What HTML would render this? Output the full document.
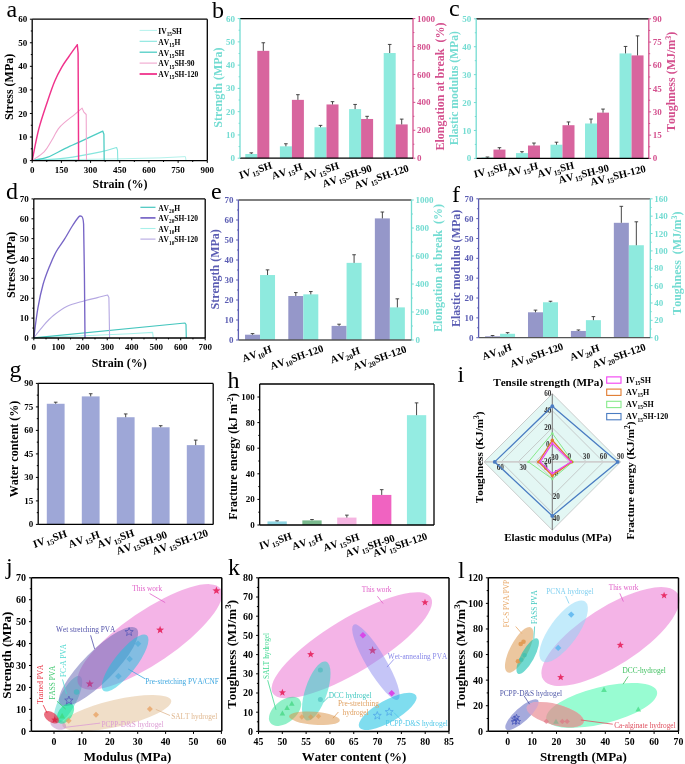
<!DOCTYPE html>
<html><head><meta charset="utf-8"><style>
html,body{margin:0;padding:0;background:#fff;}
svg{display:block;will-change:transform;}
text{font-family:"Liberation Serif",serif;font-kerning:none;}
</style></head><body>
<svg width="685" height="764" viewBox="0 0 685 764">
<rect width="685" height="764" fill="#fff"/>
<path d="M32.2,160.4 L70,159.6 L120,158.8 L160,157.9 L185.4,156.6 L186,160.5" stroke="#b4f2ec" stroke-width="1" fill="none" stroke-linejoin="round"/>
<path d="M32.2,160.5 C37.72,160.1 53.88,159.53 65.3,158.1 C76.72,156.67 92.15,153.67 100.7,151.9 C109.25,150.13 113.95,148.23 116.6,147.5 L117.5,150.1 L117.8,160.5" stroke="#86e6de" stroke-width="1.1" fill="none" stroke-linejoin="round"/>
<path d="M32.2,160.5 C34.78,159.95 42.18,159.22 47.7,157.2 C53.22,155.18 59.42,151.2 65.3,148.4 C71.18,145.6 76.75,143.28 83,140.4 C89.25,137.52 99.5,132.65 102.8,131.1 L103.9,134.2 L104.2,160.5" stroke="#4ecdc4" stroke-width="1.3" fill="none" stroke-linejoin="round"/>
<path d="M32.2,160.5 C34.18,159.07 40.93,155.1 44.1,151.9 C47.27,148.7 48.83,145.13 51.2,141.3 C53.57,137.47 55.95,132.13 58.3,128.9 C60.65,125.67 62.65,124.25 65.3,121.9 C67.95,119.55 71.4,117.1 74.2,114.8 C77,112.5 80.78,109.22 82.1,108.1 L83.9,112.2 L86.2,114.5 L86.5,160.5" stroke="#f0a6ce" stroke-width="1.1" fill="none" stroke-linejoin="round"/>
<path d="M32.2,160.5 C33.3,155.23 36.22,138.87 38.8,128.9 C41.38,118.93 45.05,108.65 47.7,100.7 C50.35,92.75 52.35,86.8 54.7,81.2 C57.05,75.6 59.43,71.22 61.8,67.1 C64.17,62.98 66.32,60.23 68.9,56.5 C71.48,52.77 75.9,46.67 77.3,44.7 L78.1,53 L78.6,160.5" stroke="#f0338c" stroke-width="1.45" fill="none" stroke-linejoin="round"/>
<line x1="32.2" y1="19.2" x2="207.3" y2="19.2" stroke="#000" stroke-width="1.3"/>
<line x1="207.3" y1="19.2" x2="207.3" y2="160.6" stroke="#000" stroke-width="1.3"/>
<line x1="32.2" y1="160.6" x2="207.3" y2="160.6" stroke="#000" stroke-width="1.3"/>
<line x1="32.2" y1="19.2" x2="32.2" y2="160.6" stroke="#000" stroke-width="1.3"/>
<line x1="29.9" y1="160.6" x2="32.2" y2="160.6" stroke="#000" stroke-width="1"/>
<text x="27.2" y="163.66" font-size="9" font-weight="bold" fill="#000" text-anchor="end">0</text>
<line x1="29.9" y1="137.03" x2="32.2" y2="137.03" stroke="#000" stroke-width="1"/>
<text x="27.2" y="140.09" font-size="9" font-weight="bold" fill="#000" text-anchor="end">10</text>
<line x1="29.9" y1="113.47" x2="32.2" y2="113.47" stroke="#000" stroke-width="1"/>
<text x="27.2" y="116.53" font-size="9" font-weight="bold" fill="#000" text-anchor="end">20</text>
<line x1="29.9" y1="89.9" x2="32.2" y2="89.9" stroke="#000" stroke-width="1"/>
<text x="27.2" y="92.96" font-size="9" font-weight="bold" fill="#000" text-anchor="end">30</text>
<line x1="29.9" y1="66.33" x2="32.2" y2="66.33" stroke="#000" stroke-width="1"/>
<text x="27.2" y="69.39" font-size="9" font-weight="bold" fill="#000" text-anchor="end">40</text>
<line x1="29.9" y1="42.77" x2="32.2" y2="42.77" stroke="#000" stroke-width="1"/>
<text x="27.2" y="45.83" font-size="9" font-weight="bold" fill="#000" text-anchor="end">50</text>
<line x1="29.9" y1="19.2" x2="32.2" y2="19.2" stroke="#000" stroke-width="1"/>
<text x="27.2" y="22.26" font-size="9" font-weight="bold" fill="#000" text-anchor="end">60</text>
<line x1="30.8" y1="148.82" x2="32.2" y2="148.82" stroke="#000" stroke-width="1"/>
<line x1="30.8" y1="125.25" x2="32.2" y2="125.25" stroke="#000" stroke-width="1"/>
<line x1="30.8" y1="101.68" x2="32.2" y2="101.68" stroke="#000" stroke-width="1"/>
<line x1="30.8" y1="78.12" x2="32.2" y2="78.12" stroke="#000" stroke-width="1"/>
<line x1="30.8" y1="54.55" x2="32.2" y2="54.55" stroke="#000" stroke-width="1"/>
<line x1="30.8" y1="30.98" x2="32.2" y2="30.98" stroke="#000" stroke-width="1"/>
<line x1="32.2" y1="160.6" x2="32.2" y2="162.9" stroke="#000" stroke-width="1"/>
<text x="32.2" y="172.8" font-size="9" font-weight="bold" fill="#000" text-anchor="middle">0</text>
<line x1="61.38" y1="160.6" x2="61.38" y2="162.9" stroke="#000" stroke-width="1"/>
<text x="61.38" y="172.8" font-size="9" font-weight="bold" fill="#000" text-anchor="middle">150</text>
<line x1="90.57" y1="160.6" x2="90.57" y2="162.9" stroke="#000" stroke-width="1"/>
<text x="90.57" y="172.8" font-size="9" font-weight="bold" fill="#000" text-anchor="middle">300</text>
<line x1="119.75" y1="160.6" x2="119.75" y2="162.9" stroke="#000" stroke-width="1"/>
<text x="119.75" y="172.8" font-size="9" font-weight="bold" fill="#000" text-anchor="middle">450</text>
<line x1="148.93" y1="160.6" x2="148.93" y2="162.9" stroke="#000" stroke-width="1"/>
<text x="148.93" y="172.8" font-size="9" font-weight="bold" fill="#000" text-anchor="middle">600</text>
<line x1="178.12" y1="160.6" x2="178.12" y2="162.9" stroke="#000" stroke-width="1"/>
<text x="178.12" y="172.8" font-size="9" font-weight="bold" fill="#000" text-anchor="middle">750</text>
<line x1="207.3" y1="160.6" x2="207.3" y2="162.9" stroke="#000" stroke-width="1"/>
<text x="207.3" y="172.8" font-size="9" font-weight="bold" fill="#000" text-anchor="middle">900</text>
<line x1="46.79" y1="160.6" x2="46.79" y2="162" stroke="#000" stroke-width="1"/>
<line x1="75.98" y1="160.6" x2="75.98" y2="162" stroke="#000" stroke-width="1"/>
<line x1="105.16" y1="160.6" x2="105.16" y2="162" stroke="#000" stroke-width="1"/>
<line x1="134.34" y1="160.6" x2="134.34" y2="162" stroke="#000" stroke-width="1"/>
<line x1="163.53" y1="160.6" x2="163.53" y2="162" stroke="#000" stroke-width="1"/>
<line x1="192.71" y1="160.6" x2="192.71" y2="162" stroke="#000" stroke-width="1"/>
<text x="12.9" y="86.9" font-size="12" font-weight="bold" fill="#000" text-anchor="middle" transform="rotate(-90 12.9 86.9)">Stress (MPa)</text>
<text x="120" y="188" font-size="12" font-weight="bold" fill="#000" text-anchor="middle">Strain (%)</text>
<line x1="139.6" y1="30.4" x2="157" y2="30.4" stroke="#b4f2ec" stroke-width="1"/>
<text x="158.3" y="33.7" font-size="7.5" font-weight="bold" fill="#000" text-anchor="start">IV<tspan font-size="5.25" dy="2.1">15</tspan><tspan dy="-2.1">SH</tspan></text>
<line x1="139.6" y1="41.3" x2="157" y2="41.3" stroke="#86e6de" stroke-width="1.1"/>
<text x="158.3" y="44.6" font-size="7.5" font-weight="bold" fill="#000" text-anchor="start">AV<tspan font-size="5.25" dy="2.1">15</tspan><tspan dy="-2.1">H</tspan></text>
<line x1="139.6" y1="52.2" x2="157" y2="52.2" stroke="#4ecdc4" stroke-width="1.3"/>
<text x="158.3" y="55.5" font-size="7.5" font-weight="bold" fill="#000" text-anchor="start">AV<tspan font-size="5.25" dy="2.1">15</tspan><tspan dy="-2.1">SH</tspan></text>
<line x1="139.6" y1="63.1" x2="157" y2="63.1" stroke="#f0a6ce" stroke-width="1.1"/>
<text x="158.3" y="66.4" font-size="7.5" font-weight="bold" fill="#000" text-anchor="start">AV<tspan font-size="5.25" dy="2.1">15</tspan><tspan dy="-2.1">SH-90</tspan></text>
<line x1="139.6" y1="74" x2="157" y2="74" stroke="#f0338c" stroke-width="1.8"/>
<text x="158.3" y="77.3" font-size="7.5" font-weight="bold" fill="#000" text-anchor="start">AV<tspan font-size="5.25" dy="2.1">15</tspan><tspan dy="-2.1">SH-120</tspan></text>
<rect x="245.3" y="154.01" width="12" height="4.19" fill="#8eeade"/>
<rect x="257.3" y="50.85" width="12" height="107.35" fill="#d8659e"/>
<line x1="251.3" y1="154.01" x2="251.3" y2="152.85" stroke="#333" stroke-width="0.9"/>
<line x1="249.5" y1="152.85" x2="253.1" y2="152.85" stroke="#333" stroke-width="0.9"/>
<line x1="263.3" y1="50.85" x2="263.3" y2="42.75" stroke="#333" stroke-width="0.9"/>
<line x1="261.5" y1="42.75" x2="265.1" y2="42.75" stroke="#333" stroke-width="0.9"/>
<rect x="279.9" y="146.33" width="12" height="11.87" fill="#8eeade"/>
<rect x="291.9" y="99.85" width="12" height="58.35" fill="#d8659e"/>
<line x1="285.9" y1="146.33" x2="285.9" y2="143.77" stroke="#333" stroke-width="0.9"/>
<line x1="284.1" y1="143.77" x2="287.7" y2="143.77" stroke="#333" stroke-width="0.9"/>
<line x1="297.9" y1="99.85" x2="297.9" y2="94.68" stroke="#333" stroke-width="0.9"/>
<line x1="296.1" y1="94.68" x2="299.7" y2="94.68" stroke="#333" stroke-width="0.9"/>
<rect x="314.5" y="127.26" width="12" height="30.94" fill="#8eeade"/>
<rect x="326.5" y="104.45" width="12" height="53.75" fill="#d8659e"/>
<line x1="320.5" y1="127.26" x2="320.5" y2="125.39" stroke="#333" stroke-width="0.9"/>
<line x1="318.7" y1="125.39" x2="322.3" y2="125.39" stroke="#333" stroke-width="0.9"/>
<line x1="332.5" y1="104.45" x2="332.5" y2="101.66" stroke="#333" stroke-width="0.9"/>
<line x1="330.7" y1="101.66" x2="334.3" y2="101.66" stroke="#333" stroke-width="0.9"/>
<rect x="349.1" y="109.11" width="12" height="49.09" fill="#8eeade"/>
<rect x="361.1" y="118.97" width="12" height="39.23" fill="#d8659e"/>
<line x1="355.1" y1="109.11" x2="355.1" y2="104.45" stroke="#333" stroke-width="0.9"/>
<line x1="353.3" y1="104.45" x2="356.9" y2="104.45" stroke="#333" stroke-width="0.9"/>
<line x1="367.1" y1="118.97" x2="367.1" y2="116.32" stroke="#333" stroke-width="0.9"/>
<line x1="365.3" y1="116.32" x2="368.9" y2="116.32" stroke="#333" stroke-width="0.9"/>
<rect x="383.7" y="53.03" width="12" height="105.17" fill="#8eeade"/>
<rect x="395.7" y="124.42" width="12" height="33.78" fill="#d8659e"/>
<line x1="389.7" y1="53.03" x2="389.7" y2="44.43" stroke="#333" stroke-width="0.9"/>
<line x1="387.9" y1="44.43" x2="391.5" y2="44.43" stroke="#333" stroke-width="0.9"/>
<line x1="401.7" y1="124.42" x2="401.7" y2="119.11" stroke="#333" stroke-width="0.9"/>
<line x1="399.9" y1="119.11" x2="403.5" y2="119.11" stroke="#333" stroke-width="0.9"/>
<line x1="240" y1="18.6" x2="413" y2="18.6" stroke="#000" stroke-width="1.3"/>
<line x1="413" y1="18.6" x2="413" y2="158.2" stroke="#d4508e" stroke-width="1.3"/>
<line x1="240" y1="158.2" x2="413" y2="158.2" stroke="#000" stroke-width="1.3"/>
<line x1="240" y1="18.6" x2="240" y2="158.2" stroke="#74dcd2" stroke-width="1.3"/>
<line x1="237.7" y1="158.2" x2="240" y2="158.2" stroke="#74dcd2" stroke-width="1"/>
<text x="235" y="161.26" font-size="9" font-weight="bold" fill="#74dcd2" text-anchor="end">0</text>
<line x1="237.7" y1="134.93" x2="240" y2="134.93" stroke="#74dcd2" stroke-width="1"/>
<text x="235" y="137.99" font-size="9" font-weight="bold" fill="#74dcd2" text-anchor="end">10</text>
<line x1="237.7" y1="111.67" x2="240" y2="111.67" stroke="#74dcd2" stroke-width="1"/>
<text x="235" y="114.73" font-size="9" font-weight="bold" fill="#74dcd2" text-anchor="end">20</text>
<line x1="237.7" y1="88.4" x2="240" y2="88.4" stroke="#74dcd2" stroke-width="1"/>
<text x="235" y="91.46" font-size="9" font-weight="bold" fill="#74dcd2" text-anchor="end">30</text>
<line x1="237.7" y1="65.13" x2="240" y2="65.13" stroke="#74dcd2" stroke-width="1"/>
<text x="235" y="68.19" font-size="9" font-weight="bold" fill="#74dcd2" text-anchor="end">40</text>
<line x1="237.7" y1="41.87" x2="240" y2="41.87" stroke="#74dcd2" stroke-width="1"/>
<text x="235" y="44.93" font-size="9" font-weight="bold" fill="#74dcd2" text-anchor="end">50</text>
<line x1="237.7" y1="18.6" x2="240" y2="18.6" stroke="#74dcd2" stroke-width="1"/>
<text x="235" y="21.66" font-size="9" font-weight="bold" fill="#74dcd2" text-anchor="end">60</text>
<line x1="238.6" y1="146.57" x2="240" y2="146.57" stroke="#74dcd2" stroke-width="1"/>
<line x1="238.6" y1="123.3" x2="240" y2="123.3" stroke="#74dcd2" stroke-width="1"/>
<line x1="238.6" y1="100.03" x2="240" y2="100.03" stroke="#74dcd2" stroke-width="1"/>
<line x1="238.6" y1="76.77" x2="240" y2="76.77" stroke="#74dcd2" stroke-width="1"/>
<line x1="238.6" y1="53.5" x2="240" y2="53.5" stroke="#74dcd2" stroke-width="1"/>
<line x1="238.6" y1="30.23" x2="240" y2="30.23" stroke="#74dcd2" stroke-width="1"/>
<line x1="413" y1="158.2" x2="415.3" y2="158.2" stroke="#d4508e" stroke-width="1"/>
<text x="417" y="161.26" font-size="9" font-weight="bold" fill="#d4508e" text-anchor="start">0</text>
<line x1="413" y1="130.28" x2="415.3" y2="130.28" stroke="#d4508e" stroke-width="1"/>
<text x="417" y="133.34" font-size="9" font-weight="bold" fill="#d4508e" text-anchor="start">200</text>
<line x1="413" y1="102.36" x2="415.3" y2="102.36" stroke="#d4508e" stroke-width="1"/>
<text x="417" y="105.42" font-size="9" font-weight="bold" fill="#d4508e" text-anchor="start">400</text>
<line x1="413" y1="74.44" x2="415.3" y2="74.44" stroke="#d4508e" stroke-width="1"/>
<text x="417" y="77.5" font-size="9" font-weight="bold" fill="#d4508e" text-anchor="start">600</text>
<line x1="413" y1="46.52" x2="415.3" y2="46.52" stroke="#d4508e" stroke-width="1"/>
<text x="417" y="49.58" font-size="9" font-weight="bold" fill="#d4508e" text-anchor="start">800</text>
<line x1="413" y1="18.6" x2="415.3" y2="18.6" stroke="#d4508e" stroke-width="1"/>
<text x="417" y="21.66" font-size="9" font-weight="bold" fill="#d4508e" text-anchor="start">1000</text>
<line x1="413" y1="144.24" x2="414.4" y2="144.24" stroke="#d4508e" stroke-width="1"/>
<line x1="413" y1="116.32" x2="414.4" y2="116.32" stroke="#d4508e" stroke-width="1"/>
<line x1="413" y1="88.4" x2="414.4" y2="88.4" stroke="#d4508e" stroke-width="1"/>
<line x1="413" y1="60.48" x2="414.4" y2="60.48" stroke="#d4508e" stroke-width="1"/>
<line x1="413" y1="32.56" x2="414.4" y2="32.56" stroke="#d4508e" stroke-width="1"/>
<text x="221.7" y="87.6" font-size="12" font-weight="bold" fill="#74dcd2" text-anchor="middle" transform="rotate(-90 221.7 87.6)">Strength (MPa)</text>
<text x="443.5" y="86.5" font-size="12" font-weight="bold" fill="#d4508e" text-anchor="middle" transform="rotate(-90 443.5 86.5)" xml:space="preserve">Elongation at break  (%)</text>
<text x="272.7" y="168.1" font-size="10.5" font-weight="bold" fill="#000" text-anchor="end" transform="rotate(-18.6 272.7 168.1)">IV<tspan font-size="3.67"> </tspan><tspan font-size="7.35" dy="2.31">15</tspan><tspan dy="-2.31">SH</tspan></text>
<text x="303" y="169.5" font-size="10.5" font-weight="bold" fill="#000" text-anchor="end" transform="rotate(-18.6 303 169.5)">AV<tspan font-size="3.67"> </tspan><tspan font-size="7.35" dy="2.31">15</tspan><tspan dy="-2.31">H</tspan></text>
<text x="339.7" y="168.4" font-size="10.5" font-weight="bold" fill="#000" text-anchor="end" transform="rotate(-18.6 339.7 168.4)">AV<tspan font-size="3.67"> </tspan><tspan font-size="7.35" dy="2.31">15</tspan><tspan dy="-2.31">SH</tspan></text>
<text x="372.5" y="171" font-size="10.5" font-weight="bold" fill="#000" text-anchor="end" transform="rotate(-18.6 372.5 171)">AV<tspan font-size="3.67"> </tspan><tspan font-size="7.35" dy="2.31">15</tspan><tspan dy="-2.31">SH-90</tspan></text>
<text x="409.4" y="171" font-size="10.5" font-weight="bold" fill="#000" text-anchor="end" transform="rotate(-18.6 409.4 171)">AV<tspan font-size="3.67"> </tspan><tspan font-size="7.35" dy="2.31">15</tspan><tspan dy="-2.31">SH-120</tspan></text>
<rect x="481.46" y="157.56" width="12" height="0.84" fill="#8eeade"/>
<rect x="493.46" y="149.56" width="12" height="8.84" fill="#d8659e"/>
<line x1="487.46" y1="157.56" x2="487.46" y2="157" stroke="#333" stroke-width="0.9"/>
<line x1="485.66" y1="157" x2="489.26" y2="157" stroke="#333" stroke-width="0.9"/>
<line x1="499.46" y1="149.56" x2="499.46" y2="147.7" stroke="#333" stroke-width="0.9"/>
<line x1="497.66" y1="147.7" x2="501.26" y2="147.7" stroke="#333" stroke-width="0.9"/>
<rect x="515.98" y="153.1" width="12" height="5.3" fill="#8eeade"/>
<rect x="527.98" y="145.53" width="12" height="12.87" fill="#d8659e"/>
<line x1="521.98" y1="153.1" x2="521.98" y2="151.7" stroke="#333" stroke-width="0.9"/>
<line x1="520.18" y1="151.7" x2="523.78" y2="151.7" stroke="#333" stroke-width="0.9"/>
<line x1="533.98" y1="145.53" x2="533.98" y2="143.04" stroke="#333" stroke-width="0.9"/>
<line x1="532.18" y1="143.04" x2="535.78" y2="143.04" stroke="#333" stroke-width="0.9"/>
<rect x="550.5" y="144.72" width="12" height="13.68" fill="#8eeade"/>
<rect x="562.5" y="125.21" width="12" height="33.19" fill="#d8659e"/>
<line x1="556.5" y1="144.72" x2="556.5" y2="142.21" stroke="#333" stroke-width="0.9"/>
<line x1="554.7" y1="142.21" x2="558.3" y2="142.21" stroke="#333" stroke-width="0.9"/>
<line x1="568.5" y1="125.21" x2="568.5" y2="121.95" stroke="#333" stroke-width="0.9"/>
<line x1="566.7" y1="121.95" x2="570.3" y2="121.95" stroke="#333" stroke-width="0.9"/>
<rect x="585.02" y="123.5" width="12" height="34.9" fill="#8eeade"/>
<rect x="597.02" y="112.64" width="12" height="45.76" fill="#d8659e"/>
<line x1="591.02" y1="123.5" x2="591.02" y2="119.03" stroke="#333" stroke-width="0.9"/>
<line x1="589.22" y1="119.03" x2="592.82" y2="119.03" stroke="#333" stroke-width="0.9"/>
<line x1="603.02" y1="112.64" x2="603.02" y2="109.07" stroke="#333" stroke-width="0.9"/>
<line x1="601.22" y1="109.07" x2="604.82" y2="109.07" stroke="#333" stroke-width="0.9"/>
<rect x="619.54" y="53.42" width="12" height="104.98" fill="#8eeade"/>
<rect x="631.54" y="55.41" width="12" height="102.99" fill="#d8659e"/>
<line x1="625.54" y1="53.42" x2="625.54" y2="46.44" stroke="#333" stroke-width="0.9"/>
<line x1="623.74" y1="46.44" x2="627.34" y2="46.44" stroke="#333" stroke-width="0.9"/>
<line x1="637.54" y1="55.41" x2="637.54" y2="35.86" stroke="#333" stroke-width="0.9"/>
<line x1="635.74" y1="35.86" x2="639.34" y2="35.86" stroke="#333" stroke-width="0.9"/>
<line x1="476.2" y1="18.8" x2="648.8" y2="18.8" stroke="#000" stroke-width="1.3"/>
<line x1="648.8" y1="18.8" x2="648.8" y2="158.4" stroke="#d4508e" stroke-width="1.3"/>
<line x1="476.2" y1="158.4" x2="648.8" y2="158.4" stroke="#000" stroke-width="1.3"/>
<line x1="476.2" y1="18.8" x2="476.2" y2="158.4" stroke="#74dcd2" stroke-width="1.3"/>
<line x1="473.9" y1="158.4" x2="476.2" y2="158.4" stroke="#74dcd2" stroke-width="1"/>
<text x="471.2" y="161.46" font-size="9" font-weight="bold" fill="#74dcd2" text-anchor="end">0</text>
<line x1="473.9" y1="130.48" x2="476.2" y2="130.48" stroke="#74dcd2" stroke-width="1"/>
<text x="471.2" y="133.54" font-size="9" font-weight="bold" fill="#74dcd2" text-anchor="end">10</text>
<line x1="473.9" y1="102.56" x2="476.2" y2="102.56" stroke="#74dcd2" stroke-width="1"/>
<text x="471.2" y="105.62" font-size="9" font-weight="bold" fill="#74dcd2" text-anchor="end">20</text>
<line x1="473.9" y1="74.64" x2="476.2" y2="74.64" stroke="#74dcd2" stroke-width="1"/>
<text x="471.2" y="77.7" font-size="9" font-weight="bold" fill="#74dcd2" text-anchor="end">30</text>
<line x1="473.9" y1="46.72" x2="476.2" y2="46.72" stroke="#74dcd2" stroke-width="1"/>
<text x="471.2" y="49.78" font-size="9" font-weight="bold" fill="#74dcd2" text-anchor="end">40</text>
<line x1="473.9" y1="18.8" x2="476.2" y2="18.8" stroke="#74dcd2" stroke-width="1"/>
<text x="471.2" y="21.86" font-size="9" font-weight="bold" fill="#74dcd2" text-anchor="end">50</text>
<line x1="474.8" y1="144.44" x2="476.2" y2="144.44" stroke="#74dcd2" stroke-width="1"/>
<line x1="474.8" y1="116.52" x2="476.2" y2="116.52" stroke="#74dcd2" stroke-width="1"/>
<line x1="474.8" y1="88.6" x2="476.2" y2="88.6" stroke="#74dcd2" stroke-width="1"/>
<line x1="474.8" y1="60.68" x2="476.2" y2="60.68" stroke="#74dcd2" stroke-width="1"/>
<line x1="474.8" y1="32.76" x2="476.2" y2="32.76" stroke="#74dcd2" stroke-width="1"/>
<line x1="648.8" y1="158.4" x2="651.1" y2="158.4" stroke="#d4508e" stroke-width="1"/>
<text x="652.8" y="161.46" font-size="9" font-weight="bold" fill="#d4508e" text-anchor="start">0</text>
<line x1="648.8" y1="135.13" x2="651.1" y2="135.13" stroke="#d4508e" stroke-width="1"/>
<text x="652.8" y="138.19" font-size="9" font-weight="bold" fill="#d4508e" text-anchor="start">15</text>
<line x1="648.8" y1="111.87" x2="651.1" y2="111.87" stroke="#d4508e" stroke-width="1"/>
<text x="652.8" y="114.93" font-size="9" font-weight="bold" fill="#d4508e" text-anchor="start">30</text>
<line x1="648.8" y1="88.6" x2="651.1" y2="88.6" stroke="#d4508e" stroke-width="1"/>
<text x="652.8" y="91.66" font-size="9" font-weight="bold" fill="#d4508e" text-anchor="start">45</text>
<line x1="648.8" y1="65.33" x2="651.1" y2="65.33" stroke="#d4508e" stroke-width="1"/>
<text x="652.8" y="68.39" font-size="9" font-weight="bold" fill="#d4508e" text-anchor="start">60</text>
<line x1="648.8" y1="42.07" x2="651.1" y2="42.07" stroke="#d4508e" stroke-width="1"/>
<text x="652.8" y="45.13" font-size="9" font-weight="bold" fill="#d4508e" text-anchor="start">75</text>
<line x1="648.8" y1="18.8" x2="651.1" y2="18.8" stroke="#d4508e" stroke-width="1"/>
<text x="652.8" y="21.86" font-size="9" font-weight="bold" fill="#d4508e" text-anchor="start">90</text>
<line x1="648.8" y1="146.77" x2="650.2" y2="146.77" stroke="#d4508e" stroke-width="1"/>
<line x1="648.8" y1="123.5" x2="650.2" y2="123.5" stroke="#d4508e" stroke-width="1"/>
<line x1="648.8" y1="100.23" x2="650.2" y2="100.23" stroke="#d4508e" stroke-width="1"/>
<line x1="648.8" y1="76.97" x2="650.2" y2="76.97" stroke="#d4508e" stroke-width="1"/>
<line x1="648.8" y1="53.7" x2="650.2" y2="53.7" stroke="#d4508e" stroke-width="1"/>
<line x1="648.8" y1="30.43" x2="650.2" y2="30.43" stroke="#d4508e" stroke-width="1"/>
<text x="458.3" y="88.2" font-size="11.7" font-weight="bold" fill="#74dcd2" text-anchor="middle" transform="rotate(-90 458.3 88.2)">Elastic modulus (MPa)</text>
<text x="675.2" y="81.8" font-size="12" font-weight="bold" fill="#d4508e" text-anchor="middle" transform="rotate(-90 675.2 81.8)">Toughness (MJ/m<tspan font-size="8" dy="-4">3</tspan><tspan dy="4">)</tspan></text>
<text x="507.8" y="169.5" font-size="10.5" font-weight="bold" fill="#000" text-anchor="end" transform="rotate(-14 507.8 169.5)">IV<tspan font-size="3.67"> </tspan><tspan font-size="7.35" dy="2.31">15</tspan><tspan dy="-2.31">SH</tspan></text>
<text x="538.6" y="168.8" font-size="10.5" font-weight="bold" fill="#000" text-anchor="end" transform="rotate(-14 538.6 168.8)">AV<tspan font-size="3.67"> </tspan><tspan font-size="7.35" dy="2.31">15</tspan><tspan dy="-2.31">H</tspan></text>
<text x="574.7" y="168.4" font-size="10.5" font-weight="bold" fill="#000" text-anchor="end" transform="rotate(-14 574.7 168.4)">AV<tspan font-size="3.67"> </tspan><tspan font-size="7.35" dy="2.31">15</tspan><tspan dy="-2.31">SH</tspan></text>
<text x="609.5" y="171" font-size="10.5" font-weight="bold" fill="#000" text-anchor="end" transform="rotate(-14 609.5 171)">AV<tspan font-size="3.67"> </tspan><tspan font-size="7.35" dy="2.31">15</tspan><tspan dy="-2.31">SH-90</tspan></text>
<text x="646.4" y="171.8" font-size="10.5" font-weight="bold" fill="#000" text-anchor="end" transform="rotate(-14 646.4 171.8)">AV<tspan font-size="3.67"> </tspan><tspan font-size="7.35" dy="2.31">15</tspan><tspan dy="-2.31">SH-120</tspan></text>
<path d="M33.8,337.8 L90,335.5 L130,333.8 L152.6,332.4 L153.3,337.9" stroke="#a8f0ea" stroke-width="1.1" fill="none" stroke-linejoin="round"/>
<path d="M33.8,337.8 L185,323 L186,324.5 L186.3,337.9" stroke="#45c6be" stroke-width="1.2" fill="none" stroke-linejoin="round"/>
<path d="M33.8,337.8 C35.45,335.72 40.38,329.05 43.7,325.3 C47.02,321.55 49.78,318.48 53.7,315.3 C57.62,312.12 62.17,308.58 67.2,306.2 C72.23,303.82 78.87,302.43 83.9,301 C88.93,299.57 93.45,298.6 97.4,297.6 C101.35,296.6 105.9,295.43 107.6,295 L108.9,297.5 L109.6,337.9" stroke="#b5a8e2" stroke-width="1.1" fill="none" stroke-linejoin="round"/>
<path d="M33.8,337.8 C34.48,332.83 36.35,316.92 37.9,308 C39.45,299.08 41.13,291.32 43.1,284.3 C45.07,277.28 47.5,271.37 49.7,265.9 C51.9,260.43 53.88,255.87 56.3,251.5 C58.72,247.13 61.58,243.87 64.2,239.7 C66.82,235.53 69.6,230.28 72,226.5 C74.4,222.72 77.07,218.72 78.6,217 C80.13,215.28 80.77,216.33 81.2,216.2 C82.5,216.5 83.3,219 83.6,224 L84.4,273.8 L85.0,337.9" stroke="#7765c6" stroke-width="1.35" fill="none" stroke-linejoin="round"/>
<line x1="33.8" y1="198.9" x2="205.2" y2="198.9" stroke="#000" stroke-width="1.3"/>
<line x1="205.2" y1="198.9" x2="205.2" y2="338" stroke="#000" stroke-width="1.3"/>
<line x1="33.8" y1="338" x2="205.2" y2="338" stroke="#000" stroke-width="1.3"/>
<line x1="33.8" y1="198.9" x2="33.8" y2="338" stroke="#000" stroke-width="1.3"/>
<line x1="31.5" y1="338" x2="33.8" y2="338" stroke="#000" stroke-width="1"/>
<text x="28.8" y="341.06" font-size="9" font-weight="bold" fill="#000" text-anchor="end">0</text>
<line x1="31.5" y1="318.13" x2="33.8" y2="318.13" stroke="#000" stroke-width="1"/>
<text x="28.8" y="321.19" font-size="9" font-weight="bold" fill="#000" text-anchor="end">10</text>
<line x1="31.5" y1="298.26" x2="33.8" y2="298.26" stroke="#000" stroke-width="1"/>
<text x="28.8" y="301.32" font-size="9" font-weight="bold" fill="#000" text-anchor="end">20</text>
<line x1="31.5" y1="278.39" x2="33.8" y2="278.39" stroke="#000" stroke-width="1"/>
<text x="28.8" y="281.45" font-size="9" font-weight="bold" fill="#000" text-anchor="end">30</text>
<line x1="31.5" y1="258.51" x2="33.8" y2="258.51" stroke="#000" stroke-width="1"/>
<text x="28.8" y="261.57" font-size="9" font-weight="bold" fill="#000" text-anchor="end">40</text>
<line x1="31.5" y1="238.64" x2="33.8" y2="238.64" stroke="#000" stroke-width="1"/>
<text x="28.8" y="241.7" font-size="9" font-weight="bold" fill="#000" text-anchor="end">50</text>
<line x1="31.5" y1="218.77" x2="33.8" y2="218.77" stroke="#000" stroke-width="1"/>
<text x="28.8" y="221.83" font-size="9" font-weight="bold" fill="#000" text-anchor="end">60</text>
<line x1="31.5" y1="198.9" x2="33.8" y2="198.9" stroke="#000" stroke-width="1"/>
<text x="28.8" y="201.96" font-size="9" font-weight="bold" fill="#000" text-anchor="end">70</text>
<line x1="32.4" y1="328.06" x2="33.8" y2="328.06" stroke="#000" stroke-width="1"/>
<line x1="32.4" y1="308.19" x2="33.8" y2="308.19" stroke="#000" stroke-width="1"/>
<line x1="32.4" y1="288.32" x2="33.8" y2="288.32" stroke="#000" stroke-width="1"/>
<line x1="32.4" y1="268.45" x2="33.8" y2="268.45" stroke="#000" stroke-width="1"/>
<line x1="32.4" y1="248.58" x2="33.8" y2="248.58" stroke="#000" stroke-width="1"/>
<line x1="32.4" y1="228.71" x2="33.8" y2="228.71" stroke="#000" stroke-width="1"/>
<line x1="32.4" y1="208.84" x2="33.8" y2="208.84" stroke="#000" stroke-width="1"/>
<line x1="33.8" y1="338" x2="33.8" y2="340.3" stroke="#000" stroke-width="1"/>
<text x="33.8" y="350.2" font-size="9" font-weight="bold" fill="#000" text-anchor="middle">0</text>
<line x1="58.29" y1="338" x2="58.29" y2="340.3" stroke="#000" stroke-width="1"/>
<text x="58.29" y="350.2" font-size="9" font-weight="bold" fill="#000" text-anchor="middle">100</text>
<line x1="82.77" y1="338" x2="82.77" y2="340.3" stroke="#000" stroke-width="1"/>
<text x="82.77" y="350.2" font-size="9" font-weight="bold" fill="#000" text-anchor="middle">200</text>
<line x1="107.26" y1="338" x2="107.26" y2="340.3" stroke="#000" stroke-width="1"/>
<text x="107.26" y="350.2" font-size="9" font-weight="bold" fill="#000" text-anchor="middle">300</text>
<line x1="131.74" y1="338" x2="131.74" y2="340.3" stroke="#000" stroke-width="1"/>
<text x="131.74" y="350.2" font-size="9" font-weight="bold" fill="#000" text-anchor="middle">400</text>
<line x1="156.23" y1="338" x2="156.23" y2="340.3" stroke="#000" stroke-width="1"/>
<text x="156.23" y="350.2" font-size="9" font-weight="bold" fill="#000" text-anchor="middle">500</text>
<line x1="180.71" y1="338" x2="180.71" y2="340.3" stroke="#000" stroke-width="1"/>
<text x="180.71" y="350.2" font-size="9" font-weight="bold" fill="#000" text-anchor="middle">600</text>
<line x1="205.2" y1="338" x2="205.2" y2="340.3" stroke="#000" stroke-width="1"/>
<text x="205.2" y="350.2" font-size="9" font-weight="bold" fill="#000" text-anchor="middle">700</text>
<line x1="46.04" y1="338" x2="46.04" y2="339.4" stroke="#000" stroke-width="1"/>
<line x1="70.53" y1="338" x2="70.53" y2="339.4" stroke="#000" stroke-width="1"/>
<line x1="95.01" y1="338" x2="95.01" y2="339.4" stroke="#000" stroke-width="1"/>
<line x1="119.5" y1="338" x2="119.5" y2="339.4" stroke="#000" stroke-width="1"/>
<line x1="143.99" y1="338" x2="143.99" y2="339.4" stroke="#000" stroke-width="1"/>
<line x1="168.47" y1="338" x2="168.47" y2="339.4" stroke="#000" stroke-width="1"/>
<line x1="192.96" y1="338" x2="192.96" y2="339.4" stroke="#000" stroke-width="1"/>
<text x="14.7" y="264.8" font-size="12" font-weight="bold" fill="#000" text-anchor="middle" transform="rotate(-90 14.7 264.8)">Stress (MPa)</text>
<text x="119.2" y="367" font-size="12" font-weight="bold" fill="#000" text-anchor="middle">Strain (%)</text>
<line x1="140.4" y1="207.3" x2="155.5" y2="207.3" stroke="#45c6be" stroke-width="1.2"/>
<text x="158.2" y="210.6" font-size="7.5" font-weight="bold" fill="#000" text-anchor="start">AV<tspan font-size="5.25" dy="2.1">20</tspan><tspan dy="-2.1">H</tspan></text>
<line x1="140.4" y1="217.9" x2="155.5" y2="217.9" stroke="#7765c6" stroke-width="1.7"/>
<text x="158.2" y="221.2" font-size="7.5" font-weight="bold" fill="#000" text-anchor="start">AV<tspan font-size="5.25" dy="2.1">20</tspan><tspan dy="-2.1">SH-120</tspan></text>
<line x1="140.4" y1="228.5" x2="155.5" y2="228.5" stroke="#a8f0ea" stroke-width="1.1"/>
<text x="158.2" y="231.8" font-size="7.5" font-weight="bold" fill="#000" text-anchor="start">AV<tspan font-size="5.25" dy="2.1">10</tspan><tspan dy="-2.1">H</tspan></text>
<line x1="140.4" y1="239.1" x2="155.5" y2="239.1" stroke="#b5a8e2" stroke-width="1.1"/>
<text x="158.2" y="242.4" font-size="7.5" font-weight="bold" fill="#000" text-anchor="start">AV<tspan font-size="5.25" dy="2.1">10</tspan><tspan dy="-2.1">SH-120</tspan></text>
<rect x="245.04" y="334.7" width="15" height="5.3" fill="#9597c9"/>
<rect x="260.04" y="275.04" width="15" height="64.96" fill="#8eeade"/>
<line x1="252.54" y1="334.7" x2="252.54" y2="333.6" stroke="#333" stroke-width="0.9"/>
<line x1="250.74" y1="333.6" x2="254.34" y2="333.6" stroke="#333" stroke-width="0.9"/>
<line x1="267.54" y1="275.04" x2="267.54" y2="269.86" stroke="#333" stroke-width="0.9"/>
<line x1="265.74" y1="269.86" x2="269.34" y2="269.86" stroke="#333" stroke-width="0.9"/>
<rect x="288.31" y="296" width="15" height="44" fill="#9597c9"/>
<rect x="303.31" y="294.36" width="15" height="45.64" fill="#8eeade"/>
<line x1="295.81" y1="296" x2="295.81" y2="292.6" stroke="#333" stroke-width="0.9"/>
<line x1="294.01" y1="292.6" x2="297.61" y2="292.6" stroke="#333" stroke-width="0.9"/>
<line x1="310.81" y1="294.36" x2="310.81" y2="291.56" stroke="#333" stroke-width="0.9"/>
<line x1="309.01" y1="291.56" x2="312.61" y2="291.56" stroke="#333" stroke-width="0.9"/>
<rect x="331.59" y="325.9" width="15" height="14.1" fill="#9597c9"/>
<rect x="346.59" y="262.86" width="15" height="77.14" fill="#8eeade"/>
<line x1="339.09" y1="325.9" x2="339.09" y2="324.2" stroke="#333" stroke-width="0.9"/>
<line x1="337.29" y1="324.2" x2="340.89" y2="324.2" stroke="#333" stroke-width="0.9"/>
<line x1="354.09" y1="262.86" x2="354.09" y2="254.74" stroke="#333" stroke-width="0.9"/>
<line x1="352.29" y1="254.74" x2="355.89" y2="254.74" stroke="#333" stroke-width="0.9"/>
<rect x="374.86" y="218.4" width="15" height="121.6" fill="#9597c9"/>
<rect x="389.86" y="307.38" width="15" height="32.62" fill="#8eeade"/>
<line x1="382.36" y1="218.4" x2="382.36" y2="212" stroke="#333" stroke-width="0.9"/>
<line x1="380.56" y1="212" x2="384.16" y2="212" stroke="#333" stroke-width="0.9"/>
<line x1="397.36" y1="307.38" x2="397.36" y2="298.84" stroke="#333" stroke-width="0.9"/>
<line x1="395.56" y1="298.84" x2="399.16" y2="298.84" stroke="#333" stroke-width="0.9"/>
<line x1="238.4" y1="200" x2="411.5" y2="200" stroke="#555" stroke-width="1.3"/>
<line x1="411.5" y1="200" x2="411.5" y2="340" stroke="#74dcd2" stroke-width="1.3"/>
<line x1="238.4" y1="340" x2="411.5" y2="340" stroke="#555" stroke-width="1.3"/>
<line x1="238.4" y1="200" x2="238.4" y2="340" stroke="#5b5db3" stroke-width="1.3"/>
<line x1="236.1" y1="340" x2="238.4" y2="340" stroke="#5b5db3" stroke-width="1"/>
<text x="233.4" y="343.06" font-size="9" font-weight="bold" fill="#5b5db3" text-anchor="end">0</text>
<line x1="236.1" y1="320" x2="238.4" y2="320" stroke="#5b5db3" stroke-width="1"/>
<text x="233.4" y="323.06" font-size="9" font-weight="bold" fill="#5b5db3" text-anchor="end">10</text>
<line x1="236.1" y1="300" x2="238.4" y2="300" stroke="#5b5db3" stroke-width="1"/>
<text x="233.4" y="303.06" font-size="9" font-weight="bold" fill="#5b5db3" text-anchor="end">20</text>
<line x1="236.1" y1="280" x2="238.4" y2="280" stroke="#5b5db3" stroke-width="1"/>
<text x="233.4" y="283.06" font-size="9" font-weight="bold" fill="#5b5db3" text-anchor="end">30</text>
<line x1="236.1" y1="260" x2="238.4" y2="260" stroke="#5b5db3" stroke-width="1"/>
<text x="233.4" y="263.06" font-size="9" font-weight="bold" fill="#5b5db3" text-anchor="end">40</text>
<line x1="236.1" y1="240" x2="238.4" y2="240" stroke="#5b5db3" stroke-width="1"/>
<text x="233.4" y="243.06" font-size="9" font-weight="bold" fill="#5b5db3" text-anchor="end">50</text>
<line x1="236.1" y1="220" x2="238.4" y2="220" stroke="#5b5db3" stroke-width="1"/>
<text x="233.4" y="223.06" font-size="9" font-weight="bold" fill="#5b5db3" text-anchor="end">60</text>
<line x1="236.1" y1="200" x2="238.4" y2="200" stroke="#5b5db3" stroke-width="1"/>
<text x="233.4" y="203.06" font-size="9" font-weight="bold" fill="#5b5db3" text-anchor="end">70</text>
<line x1="237" y1="330" x2="238.4" y2="330" stroke="#5b5db3" stroke-width="1"/>
<line x1="237" y1="310" x2="238.4" y2="310" stroke="#5b5db3" stroke-width="1"/>
<line x1="237" y1="290" x2="238.4" y2="290" stroke="#5b5db3" stroke-width="1"/>
<line x1="237" y1="270" x2="238.4" y2="270" stroke="#5b5db3" stroke-width="1"/>
<line x1="237" y1="250" x2="238.4" y2="250" stroke="#5b5db3" stroke-width="1"/>
<line x1="237" y1="230" x2="238.4" y2="230" stroke="#5b5db3" stroke-width="1"/>
<line x1="237" y1="210" x2="238.4" y2="210" stroke="#5b5db3" stroke-width="1"/>
<line x1="411.5" y1="340" x2="413.8" y2="340" stroke="#74dcd2" stroke-width="1"/>
<text x="415.5" y="343.06" font-size="9" font-weight="bold" fill="#74dcd2" text-anchor="start">0</text>
<line x1="411.5" y1="312" x2="413.8" y2="312" stroke="#74dcd2" stroke-width="1"/>
<text x="415.5" y="315.06" font-size="9" font-weight="bold" fill="#74dcd2" text-anchor="start">200</text>
<line x1="411.5" y1="284" x2="413.8" y2="284" stroke="#74dcd2" stroke-width="1"/>
<text x="415.5" y="287.06" font-size="9" font-weight="bold" fill="#74dcd2" text-anchor="start">400</text>
<line x1="411.5" y1="256" x2="413.8" y2="256" stroke="#74dcd2" stroke-width="1"/>
<text x="415.5" y="259.06" font-size="9" font-weight="bold" fill="#74dcd2" text-anchor="start">600</text>
<line x1="411.5" y1="228" x2="413.8" y2="228" stroke="#74dcd2" stroke-width="1"/>
<text x="415.5" y="231.06" font-size="9" font-weight="bold" fill="#74dcd2" text-anchor="start">800</text>
<line x1="411.5" y1="200" x2="413.8" y2="200" stroke="#74dcd2" stroke-width="1"/>
<text x="415.5" y="203.06" font-size="9" font-weight="bold" fill="#74dcd2" text-anchor="start">1000</text>
<line x1="411.5" y1="326" x2="412.9" y2="326" stroke="#74dcd2" stroke-width="1"/>
<line x1="411.5" y1="298" x2="412.9" y2="298" stroke="#74dcd2" stroke-width="1"/>
<line x1="411.5" y1="270" x2="412.9" y2="270" stroke="#74dcd2" stroke-width="1"/>
<line x1="411.5" y1="242" x2="412.9" y2="242" stroke="#74dcd2" stroke-width="1"/>
<line x1="411.5" y1="214" x2="412.9" y2="214" stroke="#74dcd2" stroke-width="1"/>
<text x="219.3" y="269.3" font-size="12" font-weight="bold" fill="#5b5db3" text-anchor="middle" transform="rotate(-90 219.3 269.3)">Strength (MPa)</text>
<text x="441.8" y="268" font-size="12" font-weight="bold" fill="#74dcd2" text-anchor="middle" transform="rotate(-90 441.8 268)" xml:space="preserve">Elongation at break  (%)</text>
<text x="272.5" y="351.9" font-size="10.5" font-weight="bold" fill="#000" text-anchor="end" transform="rotate(-19.5 272.5 351.9)">AV<tspan font-size="7.35" dy="2.31">10</tspan><tspan dy="-2.31">H</tspan></text>
<text x="324.1" y="351.2" font-size="10.5" font-weight="bold" fill="#000" text-anchor="end" transform="rotate(-19.5 324.1 351.2)">AV<tspan font-size="7.35" dy="2.31">10</tspan><tspan dy="-2.31">SH-120</tspan></text>
<text x="360.7" y="353.3" font-size="10.5" font-weight="bold" fill="#000" text-anchor="end" transform="rotate(-19.5 360.7 353.3)">AV<tspan font-size="7.35" dy="2.31">20</tspan><tspan dy="-2.31">H</tspan></text>
<text x="407.1" y="351.9" font-size="10.5" font-weight="bold" fill="#000" text-anchor="end" transform="rotate(-19.5 407.1 351.9)">AV<tspan font-size="7.35" dy="2.31">20</tspan><tspan dy="-2.31">SH-120</tspan></text>
<rect x="485.06" y="336.31" width="15" height="1.39" fill="#9597c9"/>
<rect x="500.06" y="333.79" width="15" height="3.91" fill="#8eeade"/>
<line x1="492.56" y1="336.31" x2="492.56" y2="335.52" stroke="#333" stroke-width="0.9"/>
<line x1="490.76" y1="335.52" x2="494.36" y2="335.52" stroke="#333" stroke-width="0.9"/>
<line x1="507.56" y1="333.79" x2="507.56" y2="332.66" stroke="#333" stroke-width="0.9"/>
<line x1="505.76" y1="332.66" x2="509.36" y2="332.66" stroke="#333" stroke-width="0.9"/>
<rect x="527.99" y="312.3" width="15" height="25.4" fill="#9597c9"/>
<rect x="542.99" y="302.28" width="15" height="35.42" fill="#8eeade"/>
<line x1="535.49" y1="312.3" x2="535.49" y2="310.12" stroke="#333" stroke-width="0.9"/>
<line x1="533.69" y1="310.12" x2="537.29" y2="310.12" stroke="#333" stroke-width="0.9"/>
<line x1="550.49" y1="302.28" x2="550.49" y2="301.24" stroke="#333" stroke-width="0.9"/>
<line x1="548.69" y1="301.24" x2="552.29" y2="301.24" stroke="#333" stroke-width="0.9"/>
<rect x="570.91" y="330.95" width="15" height="6.75" fill="#9597c9"/>
<rect x="585.91" y="320.16" width="15" height="17.54" fill="#8eeade"/>
<line x1="578.41" y1="330.95" x2="578.41" y2="329.96" stroke="#333" stroke-width="0.9"/>
<line x1="576.61" y1="329.96" x2="580.21" y2="329.96" stroke="#333" stroke-width="0.9"/>
<line x1="593.41" y1="320.16" x2="593.41" y2="316.6" stroke="#333" stroke-width="0.9"/>
<line x1="591.61" y1="316.6" x2="595.21" y2="316.6" stroke="#333" stroke-width="0.9"/>
<rect x="613.84" y="222.81" width="15" height="114.89" fill="#9597c9"/>
<rect x="628.84" y="245.24" width="15" height="92.46" fill="#8eeade"/>
<line x1="621.34" y1="222.81" x2="621.34" y2="206.34" stroke="#333" stroke-width="0.9"/>
<line x1="619.54" y1="206.34" x2="623.14" y2="206.34" stroke="#333" stroke-width="0.9"/>
<line x1="636.34" y1="245.24" x2="636.34" y2="221.81" stroke="#333" stroke-width="0.9"/>
<line x1="634.54" y1="221.81" x2="638.14" y2="221.81" stroke="#333" stroke-width="0.9"/>
<line x1="478.6" y1="198.8" x2="650.3" y2="198.8" stroke="#555" stroke-width="1.3"/>
<line x1="650.3" y1="198.8" x2="650.3" y2="337.7" stroke="#74dcd2" stroke-width="1.3"/>
<line x1="478.6" y1="337.7" x2="650.3" y2="337.7" stroke="#555" stroke-width="1.3"/>
<line x1="478.6" y1="198.8" x2="478.6" y2="337.7" stroke="#5b5db3" stroke-width="1.3"/>
<line x1="476.3" y1="337.7" x2="478.6" y2="337.7" stroke="#5b5db3" stroke-width="1"/>
<text x="473.6" y="340.76" font-size="9" font-weight="bold" fill="#5b5db3" text-anchor="end">0</text>
<line x1="476.3" y1="317.86" x2="478.6" y2="317.86" stroke="#5b5db3" stroke-width="1"/>
<text x="473.6" y="320.92" font-size="9" font-weight="bold" fill="#5b5db3" text-anchor="end">10</text>
<line x1="476.3" y1="298.01" x2="478.6" y2="298.01" stroke="#5b5db3" stroke-width="1"/>
<text x="473.6" y="301.07" font-size="9" font-weight="bold" fill="#5b5db3" text-anchor="end">20</text>
<line x1="476.3" y1="278.17" x2="478.6" y2="278.17" stroke="#5b5db3" stroke-width="1"/>
<text x="473.6" y="281.23" font-size="9" font-weight="bold" fill="#5b5db3" text-anchor="end">30</text>
<line x1="476.3" y1="258.33" x2="478.6" y2="258.33" stroke="#5b5db3" stroke-width="1"/>
<text x="473.6" y="261.39" font-size="9" font-weight="bold" fill="#5b5db3" text-anchor="end">40</text>
<line x1="476.3" y1="238.49" x2="478.6" y2="238.49" stroke="#5b5db3" stroke-width="1"/>
<text x="473.6" y="241.55" font-size="9" font-weight="bold" fill="#5b5db3" text-anchor="end">50</text>
<line x1="476.3" y1="218.64" x2="478.6" y2="218.64" stroke="#5b5db3" stroke-width="1"/>
<text x="473.6" y="221.7" font-size="9" font-weight="bold" fill="#5b5db3" text-anchor="end">60</text>
<line x1="476.3" y1="198.8" x2="478.6" y2="198.8" stroke="#5b5db3" stroke-width="1"/>
<text x="473.6" y="201.86" font-size="9" font-weight="bold" fill="#5b5db3" text-anchor="end">70</text>
<line x1="477.2" y1="327.78" x2="478.6" y2="327.78" stroke="#5b5db3" stroke-width="1"/>
<line x1="477.2" y1="307.94" x2="478.6" y2="307.94" stroke="#5b5db3" stroke-width="1"/>
<line x1="477.2" y1="288.09" x2="478.6" y2="288.09" stroke="#5b5db3" stroke-width="1"/>
<line x1="477.2" y1="268.25" x2="478.6" y2="268.25" stroke="#5b5db3" stroke-width="1"/>
<line x1="477.2" y1="248.41" x2="478.6" y2="248.41" stroke="#5b5db3" stroke-width="1"/>
<line x1="477.2" y1="228.56" x2="478.6" y2="228.56" stroke="#5b5db3" stroke-width="1"/>
<line x1="477.2" y1="208.72" x2="478.6" y2="208.72" stroke="#5b5db3" stroke-width="1"/>
<line x1="650.3" y1="337.7" x2="652.6" y2="337.7" stroke="#74dcd2" stroke-width="1"/>
<text x="654.3" y="340.76" font-size="9" font-weight="bold" fill="#74dcd2" text-anchor="start">0</text>
<line x1="650.3" y1="320.34" x2="652.6" y2="320.34" stroke="#74dcd2" stroke-width="1"/>
<text x="654.3" y="323.4" font-size="9" font-weight="bold" fill="#74dcd2" text-anchor="start">20</text>
<line x1="650.3" y1="302.98" x2="652.6" y2="302.98" stroke="#74dcd2" stroke-width="1"/>
<text x="654.3" y="306.04" font-size="9" font-weight="bold" fill="#74dcd2" text-anchor="start">40</text>
<line x1="650.3" y1="285.61" x2="652.6" y2="285.61" stroke="#74dcd2" stroke-width="1"/>
<text x="654.3" y="288.67" font-size="9" font-weight="bold" fill="#74dcd2" text-anchor="start">60</text>
<line x1="650.3" y1="268.25" x2="652.6" y2="268.25" stroke="#74dcd2" stroke-width="1"/>
<text x="654.3" y="271.31" font-size="9" font-weight="bold" fill="#74dcd2" text-anchor="start">80</text>
<line x1="650.3" y1="250.89" x2="652.6" y2="250.89" stroke="#74dcd2" stroke-width="1"/>
<text x="654.3" y="253.95" font-size="9" font-weight="bold" fill="#74dcd2" text-anchor="start">100</text>
<line x1="650.3" y1="233.53" x2="652.6" y2="233.53" stroke="#74dcd2" stroke-width="1"/>
<text x="654.3" y="236.59" font-size="9" font-weight="bold" fill="#74dcd2" text-anchor="start">120</text>
<line x1="650.3" y1="216.16" x2="652.6" y2="216.16" stroke="#74dcd2" stroke-width="1"/>
<text x="654.3" y="219.22" font-size="9" font-weight="bold" fill="#74dcd2" text-anchor="start">140</text>
<line x1="650.3" y1="198.8" x2="652.6" y2="198.8" stroke="#74dcd2" stroke-width="1"/>
<text x="654.3" y="201.86" font-size="9" font-weight="bold" fill="#74dcd2" text-anchor="start">160</text>
<line x1="650.3" y1="329.02" x2="651.7" y2="329.02" stroke="#74dcd2" stroke-width="1"/>
<line x1="650.3" y1="311.66" x2="651.7" y2="311.66" stroke="#74dcd2" stroke-width="1"/>
<line x1="650.3" y1="294.29" x2="651.7" y2="294.29" stroke="#74dcd2" stroke-width="1"/>
<line x1="650.3" y1="276.93" x2="651.7" y2="276.93" stroke="#74dcd2" stroke-width="1"/>
<line x1="650.3" y1="259.57" x2="651.7" y2="259.57" stroke="#74dcd2" stroke-width="1"/>
<line x1="650.3" y1="242.21" x2="651.7" y2="242.21" stroke="#74dcd2" stroke-width="1"/>
<line x1="650.3" y1="224.84" x2="651.7" y2="224.84" stroke="#74dcd2" stroke-width="1"/>
<line x1="650.3" y1="207.48" x2="651.7" y2="207.48" stroke="#74dcd2" stroke-width="1"/>
<text x="460.1" y="268.4" font-size="12" font-weight="bold" fill="#5b5db3" text-anchor="middle" transform="rotate(-90 460.1 268.4)">Elastic modulus (MPa)</text>
<text x="680.6" y="263.2" font-size="12" font-weight="bold" fill="#74dcd2" text-anchor="middle" transform="rotate(-90 680.6 263.2)" xml:space="preserve">Toughness  (MJ/m<tspan font-size="8" dy="-4">3</tspan><tspan dy="4">)</tspan></text>
<text x="512.5" y="349.9" font-size="10.5" font-weight="bold" fill="#000" text-anchor="end" transform="rotate(-19.2 512.5 349.9)">AV<tspan font-size="7.35" dy="2.31">10</tspan><tspan dy="-2.31">H</tspan></text>
<text x="564.1" y="349.2" font-size="10.5" font-weight="bold" fill="#000" text-anchor="end" transform="rotate(-19.2 564.1 349.2)">AV<tspan font-size="7.35" dy="2.31">10</tspan><tspan dy="-2.31">SH-120</tspan></text>
<text x="600.3" y="350.6" font-size="10.5" font-weight="bold" fill="#000" text-anchor="end" transform="rotate(-19.2 600.3 350.6)">AV<tspan font-size="7.35" dy="2.31">20</tspan><tspan dy="-2.31">H</tspan></text>
<text x="646.4" y="349.9" font-size="10.5" font-weight="bold" fill="#000" text-anchor="end" transform="rotate(-19.2 646.4 349.9)">AV<tspan font-size="7.35" dy="2.31">20</tspan><tspan dy="-2.31">SH-120</tspan></text>
<rect x="46.8" y="403.77" width="17.8" height="120.63" fill="#9ea7d7"/>
<line x1="55.7" y1="403.77" x2="55.7" y2="402.2" stroke="#333" stroke-width="0.9"/>
<line x1="53.9" y1="402.2" x2="57.5" y2="402.2" stroke="#333" stroke-width="0.9"/>
<rect x="81.8" y="396.4" width="17.8" height="128" fill="#9ea7d7"/>
<line x1="90.7" y1="396.4" x2="90.7" y2="393.74" stroke="#333" stroke-width="0.9"/>
<line x1="88.9" y1="393.74" x2="92.5" y2="393.74" stroke="#333" stroke-width="0.9"/>
<rect x="116.8" y="417.24" width="17.8" height="107.16" fill="#9ea7d7"/>
<line x1="125.7" y1="417.24" x2="125.7" y2="413.95" stroke="#333" stroke-width="0.9"/>
<line x1="123.9" y1="413.95" x2="127.5" y2="413.95" stroke="#333" stroke-width="0.9"/>
<rect x="151.8" y="427.27" width="17.8" height="97.13" fill="#9ea7d7"/>
<line x1="160.7" y1="427.27" x2="160.7" y2="425.7" stroke="#333" stroke-width="0.9"/>
<line x1="158.9" y1="425.7" x2="162.5" y2="425.7" stroke="#333" stroke-width="0.9"/>
<rect x="186.8" y="445.13" width="17.8" height="79.27" fill="#9ea7d7"/>
<line x1="195.7" y1="445.13" x2="195.7" y2="440.11" stroke="#333" stroke-width="0.9"/>
<line x1="193.9" y1="440.11" x2="197.5" y2="440.11" stroke="#333" stroke-width="0.9"/>
<line x1="38.2" y1="383.4" x2="213.2" y2="383.4" stroke="#000" stroke-width="1.3"/>
<line x1="213.2" y1="383.4" x2="213.2" y2="524.4" stroke="#000" stroke-width="1.3"/>
<line x1="38.2" y1="524.4" x2="213.2" y2="524.4" stroke="#000" stroke-width="1.3"/>
<line x1="38.2" y1="383.4" x2="38.2" y2="524.4" stroke="#000" stroke-width="1.3"/>
<line x1="35.9" y1="524.4" x2="38.2" y2="524.4" stroke="#000" stroke-width="1"/>
<text x="33.2" y="527.46" font-size="9" font-weight="bold" fill="#000" text-anchor="end">0</text>
<line x1="35.9" y1="500.9" x2="38.2" y2="500.9" stroke="#000" stroke-width="1"/>
<text x="33.2" y="503.96" font-size="9" font-weight="bold" fill="#000" text-anchor="end">15</text>
<line x1="35.9" y1="477.4" x2="38.2" y2="477.4" stroke="#000" stroke-width="1"/>
<text x="33.2" y="480.46" font-size="9" font-weight="bold" fill="#000" text-anchor="end">30</text>
<line x1="35.9" y1="453.9" x2="38.2" y2="453.9" stroke="#000" stroke-width="1"/>
<text x="33.2" y="456.96" font-size="9" font-weight="bold" fill="#000" text-anchor="end">45</text>
<line x1="35.9" y1="430.4" x2="38.2" y2="430.4" stroke="#000" stroke-width="1"/>
<text x="33.2" y="433.46" font-size="9" font-weight="bold" fill="#000" text-anchor="end">60</text>
<line x1="35.9" y1="406.9" x2="38.2" y2="406.9" stroke="#000" stroke-width="1"/>
<text x="33.2" y="409.96" font-size="9" font-weight="bold" fill="#000" text-anchor="end">75</text>
<line x1="35.9" y1="383.4" x2="38.2" y2="383.4" stroke="#000" stroke-width="1"/>
<text x="33.2" y="386.46" font-size="9" font-weight="bold" fill="#000" text-anchor="end">90</text>
<line x1="36.8" y1="512.65" x2="38.2" y2="512.65" stroke="#000" stroke-width="1"/>
<line x1="36.8" y1="489.15" x2="38.2" y2="489.15" stroke="#000" stroke-width="1"/>
<line x1="36.8" y1="465.65" x2="38.2" y2="465.65" stroke="#000" stroke-width="1"/>
<line x1="36.8" y1="442.15" x2="38.2" y2="442.15" stroke="#000" stroke-width="1"/>
<line x1="36.8" y1="418.65" x2="38.2" y2="418.65" stroke="#000" stroke-width="1"/>
<line x1="36.8" y1="395.15" x2="38.2" y2="395.15" stroke="#000" stroke-width="1"/>
<text x="17.6" y="449" font-size="12" font-weight="bold" fill="#000" text-anchor="middle" transform="rotate(-90 17.6 449)">Water content (%)</text>
<text x="67.6" y="536.6" font-size="10.8" font-weight="bold" fill="#000" text-anchor="end" transform="rotate(-19 67.6 536.6)">IV<tspan font-size="3.78"> </tspan><tspan font-size="7.56" dy="2.38">15</tspan><tspan dy="-2.38">SH</tspan></text>
<text x="100.5" y="537.3" font-size="10.8" font-weight="bold" fill="#000" text-anchor="end" transform="rotate(-19 100.5 537.3)">AV<tspan font-size="3.78"> </tspan><tspan font-size="7.56" dy="2.38">15</tspan><tspan dy="-2.38">H</tspan></text>
<text x="135" y="535.7" font-size="10.8" font-weight="bold" fill="#000" text-anchor="end" transform="rotate(-19 135 535.7)">AV<tspan font-size="3.78"> </tspan><tspan font-size="7.56" dy="2.38">15</tspan><tspan dy="-2.38">SH</tspan></text>
<text x="167.9" y="537.5" font-size="10.8" font-weight="bold" fill="#000" text-anchor="end" transform="rotate(-19 167.9 537.5)">AV<tspan font-size="3.78"> </tspan><tspan font-size="7.56" dy="2.38">15</tspan><tspan dy="-2.38">SH-90</tspan></text>
<text x="208.9" y="535.7" font-size="10.8" font-weight="bold" fill="#000" text-anchor="end" transform="rotate(-19 208.9 535.7)">AV<tspan font-size="3.78"> </tspan><tspan font-size="7.56" dy="2.38">15</tspan><tspan dy="-2.38">SH-120</tspan></text>
<rect x="267.48" y="521.42" width="19.3" height="3.58" fill="#8fd5e2"/>
<line x1="277.13" y1="521.42" x2="277.13" y2="520.78" stroke="#333" stroke-width="0.9"/>
<line x1="275.33" y1="520.78" x2="278.93" y2="520.78" stroke="#333" stroke-width="0.9"/>
<rect x="302.34" y="520.39" width="19.3" height="4.61" fill="#79b98d"/>
<line x1="311.99" y1="520.39" x2="311.99" y2="519.5" stroke="#333" stroke-width="0.9"/>
<line x1="310.19" y1="519.5" x2="313.79" y2="519.5" stroke="#333" stroke-width="0.9"/>
<rect x="337.2" y="517.58" width="19.3" height="7.42" fill="#f5b5e1"/>
<line x1="346.85" y1="517.58" x2="346.85" y2="515.14" stroke="#333" stroke-width="0.9"/>
<line x1="345.05" y1="515.14" x2="348.65" y2="515.14" stroke="#333" stroke-width="0.9"/>
<rect x="372.06" y="494.92" width="19.3" height="30.08" fill="#f063c1"/>
<line x1="381.71" y1="494.92" x2="381.71" y2="489.67" stroke="#333" stroke-width="0.9"/>
<line x1="379.91" y1="489.67" x2="383.51" y2="489.67" stroke="#333" stroke-width="0.9"/>
<rect x="406.92" y="415.18" width="19.3" height="109.82" fill="#94ece2"/>
<line x1="416.57" y1="415.18" x2="416.57" y2="402.89" stroke="#333" stroke-width="0.9"/>
<line x1="414.77" y1="402.89" x2="418.37" y2="402.89" stroke="#333" stroke-width="0.9"/>
<line x1="259.7" y1="384" x2="434" y2="384" stroke="#000" stroke-width="1.3"/>
<line x1="434" y1="384" x2="434" y2="525" stroke="#000" stroke-width="1.3"/>
<line x1="259.7" y1="525" x2="434" y2="525" stroke="#000" stroke-width="1.3"/>
<line x1="259.7" y1="384" x2="259.7" y2="525" stroke="#000" stroke-width="1.3"/>
<line x1="257.4" y1="525" x2="259.7" y2="525" stroke="#000" stroke-width="1"/>
<text x="254.7" y="528.06" font-size="9" font-weight="bold" fill="#000" text-anchor="end">0</text>
<line x1="257.4" y1="499.4" x2="259.7" y2="499.4" stroke="#000" stroke-width="1"/>
<text x="254.7" y="502.46" font-size="9" font-weight="bold" fill="#000" text-anchor="end">20</text>
<line x1="257.4" y1="473.8" x2="259.7" y2="473.8" stroke="#000" stroke-width="1"/>
<text x="254.7" y="476.86" font-size="9" font-weight="bold" fill="#000" text-anchor="end">40</text>
<line x1="257.4" y1="448.2" x2="259.7" y2="448.2" stroke="#000" stroke-width="1"/>
<text x="254.7" y="451.26" font-size="9" font-weight="bold" fill="#000" text-anchor="end">60</text>
<line x1="257.4" y1="422.6" x2="259.7" y2="422.6" stroke="#000" stroke-width="1"/>
<text x="254.7" y="425.66" font-size="9" font-weight="bold" fill="#000" text-anchor="end">80</text>
<line x1="257.4" y1="397" x2="259.7" y2="397" stroke="#000" stroke-width="1"/>
<text x="254.7" y="400.06" font-size="9" font-weight="bold" fill="#000" text-anchor="end">100</text>
<line x1="258.3" y1="512.2" x2="259.7" y2="512.2" stroke="#000" stroke-width="1"/>
<line x1="258.3" y1="486.6" x2="259.7" y2="486.6" stroke="#000" stroke-width="1"/>
<line x1="258.3" y1="461" x2="259.7" y2="461" stroke="#000" stroke-width="1"/>
<line x1="258.3" y1="435.4" x2="259.7" y2="435.4" stroke="#000" stroke-width="1"/>
<line x1="258.3" y1="409.8" x2="259.7" y2="409.8" stroke="#000" stroke-width="1"/>
<text x="237" y="456.5" font-size="12" font-weight="bold" fill="#000" text-anchor="middle" transform="rotate(-90 237 456.5)">Fracture energy (kJ m<tspan font-size="8" dy="-4">-2</tspan><tspan dy="4">)</tspan></text>
<text x="292.6" y="538.8" font-size="10.5" font-weight="bold" fill="#000" text-anchor="end" transform="rotate(-18.5 292.6 538.8)">IV<tspan font-size="3.67"> </tspan><tspan font-size="7.35" dy="2.31">15</tspan><tspan dy="-2.31">SH</tspan></text>
<text x="323.3" y="539.9" font-size="10.5" font-weight="bold" fill="#000" text-anchor="end" transform="rotate(-18.5 323.3 539.9)">AV<tspan font-size="3.67"> </tspan><tspan font-size="7.35" dy="2.31">15</tspan><tspan dy="-2.31">H</tspan></text>
<text x="360" y="539.6" font-size="10.5" font-weight="bold" fill="#000" text-anchor="end" transform="rotate(-18.5 360 539.6)">AV<tspan font-size="3.67"> </tspan><tspan font-size="7.35" dy="2.31">15</tspan><tspan dy="-2.31">SH</tspan></text>
<text x="395.6" y="540.8" font-size="10.5" font-weight="bold" fill="#000" text-anchor="end" transform="rotate(-18.5 395.6 540.8)">AV<tspan font-size="3.67"> </tspan><tspan font-size="7.35" dy="2.31">15</tspan><tspan dy="-2.31">SH-90</tspan></text>
<text x="428.1" y="539" font-size="10.5" font-weight="bold" fill="#000" text-anchor="end" transform="rotate(-18.5 428.1 539)">AV<tspan font-size="3.67"> </tspan><tspan font-size="7.35" dy="2.31">15</tspan><tspan dy="-2.31">SH-120</tspan></text>
<path d="M552.3,393.7 L620.5,461.9 L552.3,530.1 L484.1,461.9 Z" stroke="#b8b8b8" stroke-width="0.7" fill="#e3f7f4"/>
<path d="M552.3,444.85 L569.35,461.9 L552.3,478.95 L535.25,461.9 Z" stroke="#b8b8b8" stroke-width="0.7" fill="none"/>
<path d="M552.3,427.8 L586.4,461.9 L552.3,496 L518.2,461.9 Z" stroke="#b8b8b8" stroke-width="0.7" fill="none"/>
<path d="M552.3,410.75 L603.45,461.9 L552.3,513.05 L501.15,461.9 Z" stroke="#b8b8b8" stroke-width="0.7" fill="none"/>
<line x1="484.1" y1="461.9" x2="620.5" y2="461.9" stroke="#cfcfcf" stroke-width="1.8"/>
<line x1="552.3" y1="393.7" x2="552.3" y2="530.1" stroke="#808080" stroke-width="1.1"/>
<text x="547.8" y="447.35" font-size="7.2" font-weight="bold" fill="#333" text-anchor="middle">0</text>
<text x="547.8" y="430.3" font-size="7.2" font-weight="bold" fill="#333" text-anchor="middle">20</text>
<text x="547.8" y="413.25" font-size="7.2" font-weight="bold" fill="#333" text-anchor="middle">40</text>
<text x="547.8" y="396.2" font-size="7.2" font-weight="bold" fill="#333" text-anchor="middle">60</text>
<text x="569.35" y="458.7" font-size="7.2" font-weight="bold" fill="#333" text-anchor="middle">0</text>
<text x="586.4" y="458.7" font-size="7.2" font-weight="bold" fill="#333" text-anchor="middle">30</text>
<text x="603.45" y="458.7" font-size="7.2" font-weight="bold" fill="#333" text-anchor="middle">60</text>
<text x="620.5" y="458.7" font-size="7.2" font-weight="bold" fill="#333" text-anchor="middle">90</text>
<text x="556.3" y="475.77" font-size="7.2" font-weight="bold" fill="#333" text-anchor="middle">0</text>
<text x="556.3" y="498.5" font-size="7.2" font-weight="bold" fill="#333" text-anchor="middle">20</text>
<text x="556.3" y="521.23" font-size="7.2" font-weight="bold" fill="#333" text-anchor="middle">40</text>
<text x="545.72" y="469.9" font-size="7.2" font-weight="bold" fill="#333" text-anchor="middle">0</text>
<text x="522.99" y="469.9" font-size="7.2" font-weight="bold" fill="#333" text-anchor="middle">30</text>
<text x="500.26" y="469.9" font-size="7.2" font-weight="bold" fill="#333" text-anchor="middle">60</text>
<text x="553.7" y="459.5" font-size="7.2" font-weight="bold" fill="#333" text-anchor="middle">-30</text>
<text x="546.5" y="464" font-size="7.2" font-weight="bold" fill="#333" text-anchor="middle">-20</text>
<path d="M552.3,406.23 L617.66,461.9 L552.3,515.89 L494.71,461.9 Z" stroke="#4a7cc2" stroke-width="1.3" fill="none" stroke-linejoin="miter"/>
<circle cx="552.3" cy="406.23" r="1.9" fill="#4a7cc2"/>
<circle cx="617.66" cy="461.9" r="1.9" fill="#4a7cc2"/>
<circle cx="552.3" cy="515.89" r="1.9" fill="#4a7cc2"/>
<circle cx="494.71" cy="461.9" r="1.9" fill="#4a7cc2"/>
<path d="M552.3,433.34 L572.76,461.9 L552.3,478.95 L528.43,461.9 Z" stroke="#86ea8a" stroke-width="1" fill="none" stroke-linejoin="miter"/>
<circle cx="552.3" cy="433.34" r="1.2" fill="#86ea8a"/>
<circle cx="572.76" cy="461.9" r="1.2" fill="#86ea8a"/>
<circle cx="552.3" cy="478.95" r="1.2" fill="#86ea8a"/>
<circle cx="528.43" cy="461.9" r="1.2" fill="#86ea8a"/>
<path d="M552.3,440.25 L571.62,461.9 L552.3,475.54 L538.66,461.9 Z" stroke="#e07a2e" stroke-width="1.3" fill="none" stroke-linejoin="miter"/>
<circle cx="552.3" cy="440.25" r="1.7" fill="#e07a2e"/>
<circle cx="571.62" cy="461.9" r="1.7" fill="#e07a2e"/>
<circle cx="552.3" cy="475.54" r="1.7" fill="#e07a2e"/>
<circle cx="538.66" cy="461.9" r="1.7" fill="#e07a2e"/>
<path d="M552.3,443.23 L571.05,461.9 L552.3,473.61 L540.18,461.9 Z" stroke="#f23ef2" stroke-width="1.2" fill="none" stroke-linejoin="miter"/>
<circle cx="552.3" cy="443.23" r="1" fill="#f23ef2"/>
<circle cx="571.05" cy="461.9" r="1" fill="#f23ef2"/>
<circle cx="552.3" cy="473.61" r="1" fill="#f23ef2"/>
<circle cx="540.18" cy="461.9" r="1" fill="#f23ef2"/>
<text x="548.2" y="385.5" font-size="11.2" font-weight="bold" fill="#000" text-anchor="middle">Tensile strength (MPa)</text>
<text x="558" y="540.5" font-size="11" font-weight="bold" fill="#000" text-anchor="middle">Elastic modulus (MPa)</text>
<text x="483.3" y="457.3" font-size="11.2" font-weight="bold" fill="#000" text-anchor="middle" transform="rotate(-90 483.3 457.3)">Toughness (KJ/m<tspan font-size="7.5" dy="-4">3</tspan><tspan dy="4">)</tspan></text>
<text x="634.3" y="480.5" font-size="11.2" font-weight="bold" fill="#000" text-anchor="middle" transform="rotate(-90 634.3 480.5)">Fracture energy (KJ/m<tspan font-size="7.5" dy="-4">2</tspan><tspan dy="4">)</tspan></text>
<rect x="606.7" y="376.9" width="14.3" height="6.3" fill="none" stroke="#f23ef2" stroke-width="1.1"/>
<text x="626" y="382.7" font-size="8" font-weight="bold" fill="#000" text-anchor="start">IV<tspan font-size="5.44" dy="2.24">15</tspan><tspan dy="-2.24">SH</tspan></text>
<rect x="606.7" y="389.1" width="14.3" height="6.3" fill="none" stroke="#e07a2e" stroke-width="1.1"/>
<text x="626" y="394.9" font-size="8" font-weight="bold" fill="#000" text-anchor="start">AV<tspan font-size="5.44" dy="2.24">15</tspan><tspan dy="-2.24">H</tspan></text>
<rect x="606.7" y="401.3" width="14.3" height="6.3" fill="none" stroke="#86ea8a" stroke-width="1.1"/>
<text x="626" y="407.1" font-size="8" font-weight="bold" fill="#000" text-anchor="start">AV<tspan font-size="5.44" dy="2.24">15</tspan><tspan dy="-2.24">SH</tspan></text>
<rect x="606.7" y="413.5" width="14.3" height="6.3" fill="none" stroke="#4a7cc2" stroke-width="1.1"/>
<text x="626" y="419.3" font-size="8" font-weight="bold" fill="#000" text-anchor="start">AV<tspan font-size="5.44" dy="2.24">15</tspan><tspan dy="-2.24">SH-120</tspan></text>
<ellipse cx="116.8" cy="713.05" rx="55.81" ry="13.5" transform="rotate(-12.89 116.8 713.05)" fill="#e1bd91" fill-opacity="0.5"/>
<ellipse cx="58.3" cy="724.6" rx="8.2" ry="4.8" transform="rotate(18 58.3 724.6)" fill="#b478bc" fill-opacity="0.45"/>
<ellipse cx="68.05" cy="699.45" rx="26.19" ry="8.5" transform="rotate(-62.6 68.05 699.45)" fill="#45d8cc" fill-opacity="0.5"/>
<ellipse cx="149.8" cy="636.9" rx="85.7" ry="26.1" transform="rotate(-34.2 149.8 636.9)" fill="#e969cf" fill-opacity="0.5"/>
<ellipse cx="98.55" cy="666.5" rx="53.78" ry="15.5" transform="rotate(-44.96 98.55 666.5)" fill="#6161b1" fill-opacity="0.5"/>
<ellipse cx="125.1" cy="663" rx="35.19" ry="11" transform="rotate(-51.93 125.1 663)" fill="#11c5dd" fill-opacity="0.5"/>
<ellipse cx="65.4" cy="713.4" rx="11.5" ry="7" transform="rotate(-55 65.4 713.4)" fill="#00e489" fill-opacity="0.55"/>
<ellipse cx="51.5" cy="717.3" rx="8.5" ry="4.9" transform="rotate(35 51.5 717.3)" fill="#e0304a" fill-opacity="0.7"/>
<path d="M216.4,586.5 L217.44,589.27 L220.39,589.4 L218.08,591.25 L218.87,594.1 L216.4,592.46 L213.93,594.1 L214.72,591.25 L212.41,589.4 L215.36,589.27 Z" fill="#e8306a" stroke="none" stroke-width="0.8" opacity="1"/>
<path d="M160.1,625.8 L161.14,628.57 L164.09,628.7 L161.78,630.55 L162.57,633.4 L160.1,631.76 L157.63,633.4 L158.42,630.55 L156.11,628.7 L159.06,628.57 Z" fill="#e8306a" stroke="none" stroke-width="0.8" opacity="1"/>
<path d="M89.8,679.7 L90.84,682.47 L93.79,682.6 L91.48,684.45 L92.27,687.3 L89.8,685.66 L87.33,687.3 L88.12,684.45 L85.81,682.6 L88.76,682.47 Z" fill="#b8408e" stroke="none" stroke-width="0.8" opacity="1"/>
<path d="M54.8,716 L55.74,718.51 L58.41,718.63 L56.32,720.29 L57.03,722.87 L54.8,721.4 L52.57,722.87 L53.28,720.29 L51.19,718.63 L53.86,718.51 Z" fill="#d82848" stroke="none" stroke-width="0.8" opacity="1"/>
<path d="M129.1,627.6 L130.19,630.5 L133.28,630.64 L130.86,632.57 L131.69,635.56 L129.1,633.85 L126.51,635.56 L127.34,632.57 L124.92,630.64 L128.01,630.5 Z" fill="none" stroke="#5858b8" stroke-width="0.8" opacity="1"/>
<path d="M68.9,696.1 L69.99,699 L73.08,699.14 L70.66,701.07 L71.49,704.06 L68.9,702.35 L66.31,704.06 L67.14,701.07 L64.72,699.14 L67.81,699 Z" fill="none" stroke="#5858b8" stroke-width="0.8" opacity="1"/>
<path d="M138,640.5 L141.3,643.8 L138,647.1 L134.7,643.8 Z" fill="#4aa8d8" opacity="0.6"/>
<path d="M129.6,655.7 L132.9,659 L129.6,662.3 L126.3,659 Z" fill="#4aa8d8" opacity="0.6"/>
<path d="M118.4,672.9 L121.7,676.2 L118.4,679.5 L115.1,676.2 Z" fill="#4aa8d8" opacity="0.6"/>
<circle cx="76.6" cy="692" r="2.8" fill="#40b8c0" opacity="0.7"/>
<path d="M149.9,705.9 L152.9,708.9 L149.9,711.9 L146.9,708.9 Z" fill="#e8a060" opacity="0.75"/>
<path d="M96,711.8 L99,714.8 L96,717.8 L93,714.8 Z" fill="#e8a060" opacity="0.75"/>
<path d="M68.6,717.7 L71.6,720.7 L68.6,723.7 L65.6,720.7 Z" fill="#e8a060" opacity="0.75"/>
<path d="M62.1,713 L65.23,718.61 L58.97,718.61 Z" fill="#40d880" opacity="0.8"/>
<text x="132.3" y="591.3" font-size="7.3" font-weight="normal" fill="#e060c8" text-anchor="start">This work</text>
<line x1="149.6" y1="593.5" x2="165.2" y2="602.6" stroke="#e060c8" stroke-width="0.8"/>
<text x="56.1" y="632.3" font-size="7.3" font-weight="normal" fill="#5050a8" text-anchor="start">Wet stretching PVA</text>
<line x1="90.6" y1="635.3" x2="94.6" y2="648.9" stroke="#5050a8" stroke-width="0.8"/>
<text x="145.3" y="684.3" font-size="7.3" font-weight="normal" fill="#40a8e0" text-anchor="start">Pre-stretching PVA/CNF</text>
<line x1="128.2" y1="669" x2="145.3" y2="678.9" stroke="#40a8e0" stroke-width="0.8"/>
<text x="171.2" y="719" font-size="7.3" font-weight="normal" fill="#e0b890" text-anchor="start">SALT hydrogel</text>
<line x1="155.8" y1="709.4" x2="170" y2="715.5" stroke="#e0b890" stroke-width="0.8"/>
<text x="101.4" y="726.8" font-size="7.3" font-weight="normal" fill="#dc9cd4" text-anchor="start">PCPP-D&S hydrogel</text>
<line x1="64.7" y1="727.4" x2="100.2" y2="723.1" stroke="#dc9cd4" stroke-width="0.8"/>
<text x="43" y="684.2" font-size="7.3" font-weight="normal" fill="#e83040" text-anchor="middle" transform="rotate(-90 43 684.2)">Trained PVA</text>
<line x1="43.2" y1="705.1" x2="47.2" y2="713.1" stroke="#e83040" stroke-width="0.8"/>
<text x="55.3" y="682.6" font-size="7.3" font-weight="normal" fill="#40c870" text-anchor="middle" transform="rotate(-90 55.3 682.6)">FASS PVA</text>
<line x1="56.9" y1="701.1" x2="65.7" y2="709.1" stroke="#40c870" stroke-width="0.8"/>
<text x="65.5" y="660.5" font-size="7.3" font-weight="normal" fill="#50d8d0" text-anchor="middle" transform="rotate(-90 65.5 660.5)">FC-A PVA</text>
<line x1="62.5" y1="679.4" x2="66.5" y2="693.9" stroke="#50d8d0" stroke-width="0.8"/>
<line x1="31.4" y1="577.8" x2="221.8" y2="577.8" stroke="#000" stroke-width="1.5"/>
<line x1="221.8" y1="577.8" x2="221.8" y2="731.3" stroke="#000" stroke-width="1.5"/>
<line x1="31.4" y1="731.3" x2="221.8" y2="731.3" stroke="#000" stroke-width="1.5"/>
<line x1="31.4" y1="577.8" x2="31.4" y2="731.3" stroke="#000" stroke-width="1.5"/>
<line x1="29" y1="731.3" x2="31.4" y2="731.3" stroke="#000" stroke-width="1"/>
<text x="26" y="734.7" font-size="10" font-weight="bold" fill="#000" text-anchor="end">0</text>
<line x1="29" y1="709.37" x2="31.4" y2="709.37" stroke="#000" stroke-width="1"/>
<text x="26" y="712.77" font-size="10" font-weight="bold" fill="#000" text-anchor="end">10</text>
<line x1="29" y1="687.44" x2="31.4" y2="687.44" stroke="#000" stroke-width="1"/>
<text x="26" y="690.84" font-size="10" font-weight="bold" fill="#000" text-anchor="end">20</text>
<line x1="29" y1="665.51" x2="31.4" y2="665.51" stroke="#000" stroke-width="1"/>
<text x="26" y="668.91" font-size="10" font-weight="bold" fill="#000" text-anchor="end">30</text>
<line x1="29" y1="643.59" x2="31.4" y2="643.59" stroke="#000" stroke-width="1"/>
<text x="26" y="646.99" font-size="10" font-weight="bold" fill="#000" text-anchor="end">40</text>
<line x1="29" y1="621.66" x2="31.4" y2="621.66" stroke="#000" stroke-width="1"/>
<text x="26" y="625.06" font-size="10" font-weight="bold" fill="#000" text-anchor="end">50</text>
<line x1="29" y1="599.73" x2="31.4" y2="599.73" stroke="#000" stroke-width="1"/>
<text x="26" y="603.13" font-size="10" font-weight="bold" fill="#000" text-anchor="end">60</text>
<line x1="29" y1="577.8" x2="31.4" y2="577.8" stroke="#000" stroke-width="1"/>
<text x="26" y="581.2" font-size="10" font-weight="bold" fill="#000" text-anchor="end">70</text>
<line x1="29.8" y1="720.34" x2="31.4" y2="720.34" stroke="#000" stroke-width="1"/>
<line x1="29.8" y1="698.41" x2="31.4" y2="698.41" stroke="#000" stroke-width="1"/>
<line x1="29.8" y1="676.48" x2="31.4" y2="676.48" stroke="#000" stroke-width="1"/>
<line x1="29.8" y1="654.55" x2="31.4" y2="654.55" stroke="#000" stroke-width="1"/>
<line x1="29.8" y1="632.62" x2="31.4" y2="632.62" stroke="#000" stroke-width="1"/>
<line x1="29.8" y1="610.69" x2="31.4" y2="610.69" stroke="#000" stroke-width="1"/>
<line x1="29.8" y1="588.76" x2="31.4" y2="588.76" stroke="#000" stroke-width="1"/>
<line x1="54" y1="731.3" x2="54" y2="733.9" stroke="#000" stroke-width="1"/>
<text x="54" y="744.9" font-size="9.8" font-weight="bold" fill="#000" text-anchor="middle">0</text>
<line x1="81.9" y1="731.3" x2="81.9" y2="733.9" stroke="#000" stroke-width="1"/>
<text x="81.9" y="744.9" font-size="9.8" font-weight="bold" fill="#000" text-anchor="middle">10</text>
<line x1="109.8" y1="731.3" x2="109.8" y2="733.9" stroke="#000" stroke-width="1"/>
<text x="109.8" y="744.9" font-size="9.8" font-weight="bold" fill="#000" text-anchor="middle">20</text>
<line x1="137.7" y1="731.3" x2="137.7" y2="733.9" stroke="#000" stroke-width="1"/>
<text x="137.7" y="744.9" font-size="9.8" font-weight="bold" fill="#000" text-anchor="middle">30</text>
<line x1="165.6" y1="731.3" x2="165.6" y2="733.9" stroke="#000" stroke-width="1"/>
<text x="165.6" y="744.9" font-size="9.8" font-weight="bold" fill="#000" text-anchor="middle">40</text>
<line x1="193.5" y1="731.3" x2="193.5" y2="733.9" stroke="#000" stroke-width="1"/>
<text x="193.5" y="744.9" font-size="9.8" font-weight="bold" fill="#000" text-anchor="middle">50</text>
<line x1="221.4" y1="731.3" x2="221.4" y2="733.9" stroke="#000" stroke-width="1"/>
<text x="221.4" y="744.9" font-size="9.8" font-weight="bold" fill="#000" text-anchor="middle">60</text>
<text x="11" y="655.2" font-size="13" font-weight="bold" fill="#000" text-anchor="middle" transform="rotate(-90 11 655.2)">Strength (MPa)</text>
<text x="127.5" y="760.7" font-size="13" font-weight="bold" fill="#000" text-anchor="middle">Modulus (MPa)</text>
<ellipse cx="351.83" cy="645.29" rx="92.4" ry="26.7" transform="rotate(-31.19 351.83 645.29)" fill="#e969cf" fill-opacity="0.5"/>
<ellipse cx="375.9" cy="662.15" rx="43.54" ry="9.8" transform="rotate(59.34 375.9 662.15)" fill="#8c8cf0" fill-opacity="0.5"/>
<ellipse cx="316.25" cy="691" rx="30.97" ry="11" transform="rotate(108.35 316.25 691)" fill="#19d7c3" fill-opacity="0.5"/>
<ellipse cx="285.05" cy="711.35" rx="18.7" ry="11" transform="rotate(-38.92 285.05 711.35)" fill="#23e191" fill-opacity="0.5"/>
<ellipse cx="314.45" cy="718.3" rx="25.44" ry="6.5" transform="rotate(4.74 314.45 718.3)" fill="#d99040" fill-opacity="0.5"/>
<ellipse cx="387.65" cy="711.35" rx="32.62" ry="11" transform="rotate(-29.28 387.65 711.35)" fill="#00bce0" fill-opacity="0.5"/>
<path d="M282.4,688.8 L283.34,691.31 L286.01,691.43 L283.92,693.09 L284.63,695.67 L282.4,694.2 L280.17,695.67 L280.88,693.09 L278.79,691.43 L281.46,691.31 Z" fill="#e8306a" stroke="none" stroke-width="0.8" opacity="1"/>
<path d="M310.7,650.6 L311.64,653.11 L314.31,653.23 L312.22,654.89 L312.93,657.47 L310.7,656 L308.47,657.47 L309.18,654.89 L307.09,653.23 L309.76,653.11 Z" fill="#e8306a" stroke="none" stroke-width="0.8" opacity="1"/>
<path d="M425,598.7 L425.94,601.21 L428.61,601.33 L426.52,602.99 L427.23,605.57 L425,604.1 L422.77,605.57 L423.48,602.99 L421.39,601.33 L424.06,601.21 Z" fill="#e8306a" stroke="none" stroke-width="0.8" opacity="1"/>
<path d="M372.6,646.1 L373.69,649 L376.78,649.14 L374.36,651.07 L375.19,654.06 L372.6,652.35 L370.01,654.06 L370.84,651.07 L368.42,649.14 L371.51,649 Z" fill="#c04890" stroke="none" stroke-width="0.8" opacity="1"/>
<path d="M362.9,631.9 L366.2,635.2 L362.9,638.5 L359.6,635.2 Z" fill="#d848e8" opacity="1"/>
<path d="M391.7,689.9 L395,693.2 L391.7,696.5 L388.4,693.2 Z" fill="#d848e8" opacity="1"/>
<circle cx="320.4" cy="669.9" r="2.5" fill="#40b8b8" opacity="0.55"/>
<circle cx="320.4" cy="699.6" r="2.5" fill="#40b8b8" opacity="0.55"/>
<path d="M282.4,710.5 L285.15,715.43 L279.64,715.43 Z" fill="#30d070" opacity="0.6"/>
<path d="M287.1,705 L289.86,709.93 L284.35,709.93 Z" fill="#30d070" opacity="0.6"/>
<path d="M291.8,700.8 L294.56,705.73 L289.05,705.73 Z" fill="#30d070" opacity="0.6"/>
<path d="M301.8,714.3 L304.5,717 L301.8,719.7 L299.1,717 Z" fill="#e09850" opacity="0.6"/>
<path d="M310.7,714.3 L313.4,717 L310.7,719.7 L308,717 Z" fill="#e09850" opacity="0.6"/>
<path d="M318.5,713.5 L321.2,716.2 L318.5,718.9 L315.8,716.2 Z" fill="#e09850" opacity="0.6"/>
<path d="M377.3,711.5 L378.34,714.27 L381.29,714.4 L378.98,716.25 L379.77,719.1 L377.3,717.46 L374.83,719.1 L375.62,716.25 L373.31,714.4 L376.26,714.27 Z" fill="none" stroke="#50a8e8" stroke-width="0.8" opacity="1"/>
<path d="M389.2,707.8 L390.24,710.57 L393.19,710.7 L390.88,712.55 L391.67,715.4 L389.2,713.76 L386.73,715.4 L387.52,712.55 L385.21,710.7 L388.16,710.57 Z" fill="none" stroke="#50a8e8" stroke-width="0.8" opacity="1"/>
<text x="361.7" y="591.5" font-size="7.3" font-weight="normal" fill="#e060c8" text-anchor="start">This work</text>
<line x1="377.4" y1="596.3" x2="383.1" y2="603.5" stroke="#e060c8" stroke-width="0.8"/>
<text x="387.8" y="658.5" font-size="7.3" font-weight="normal" fill="#8888e8" text-anchor="start">Wet-annealing PVA</text>
<line x1="393.9" y1="659.3" x2="387" y2="667.1" stroke="#8888e8" stroke-width="0.8"/>
<text x="269.5" y="655.9" font-size="7.3" font-weight="normal" fill="#40d890" text-anchor="middle" transform="rotate(-90 269.5 655.9)">SALT hydrogel</text>
<line x1="267.7" y1="680.2" x2="276" y2="709.8" stroke="#40d890" stroke-width="0.8"/>
<text x="328.7" y="698" font-size="7.3" font-weight="normal" fill="#40c8c0" text-anchor="start">DCC hydrogel</text>
<line x1="328.7" y1="696.8" x2="323.2" y2="702.3" stroke="#40c8c0" stroke-width="0.8"/>
<text x="337.9" y="706" font-size="7.3" font-weight="normal" fill="#e0a060" text-anchor="start">Pre-stretching</text>
<text x="342.6" y="715" font-size="7.3" font-weight="normal" fill="#e0a060" text-anchor="start">hydrogel</text>
<line x1="338.4" y1="712" x2="332.9" y2="718.2" stroke="#e0a060" stroke-width="0.8"/>
<text x="385.6" y="726.3" font-size="7.3" font-weight="normal" fill="#50c8e8" text-anchor="start">PCPP-D&S hydrogel</text>
<line x1="393.9" y1="712.6" x2="401.7" y2="720.4" stroke="#50c8e8" stroke-width="0.8"/>
<line x1="258.5" y1="577.8" x2="449" y2="577.8" stroke="#000" stroke-width="1.5"/>
<line x1="449" y1="577.8" x2="449" y2="731.4" stroke="#000" stroke-width="1.5"/>
<line x1="258.5" y1="731.4" x2="449" y2="731.4" stroke="#000" stroke-width="1.5"/>
<line x1="258.5" y1="577.8" x2="258.5" y2="731.4" stroke="#000" stroke-width="1.5"/>
<line x1="256.1" y1="731.4" x2="258.5" y2="731.4" stroke="#000" stroke-width="1"/>
<text x="253.1" y="734.8" font-size="10" font-weight="bold" fill="#000" text-anchor="end">0</text>
<line x1="256.1" y1="712.2" x2="258.5" y2="712.2" stroke="#000" stroke-width="1"/>
<text x="253.1" y="715.6" font-size="10" font-weight="bold" fill="#000" text-anchor="end">10</text>
<line x1="256.1" y1="693" x2="258.5" y2="693" stroke="#000" stroke-width="1"/>
<text x="253.1" y="696.4" font-size="10" font-weight="bold" fill="#000" text-anchor="end">20</text>
<line x1="256.1" y1="673.8" x2="258.5" y2="673.8" stroke="#000" stroke-width="1"/>
<text x="253.1" y="677.2" font-size="10" font-weight="bold" fill="#000" text-anchor="end">30</text>
<line x1="256.1" y1="654.6" x2="258.5" y2="654.6" stroke="#000" stroke-width="1"/>
<text x="253.1" y="658" font-size="10" font-weight="bold" fill="#000" text-anchor="end">40</text>
<line x1="256.1" y1="635.4" x2="258.5" y2="635.4" stroke="#000" stroke-width="1"/>
<text x="253.1" y="638.8" font-size="10" font-weight="bold" fill="#000" text-anchor="end">50</text>
<line x1="256.1" y1="616.2" x2="258.5" y2="616.2" stroke="#000" stroke-width="1"/>
<text x="253.1" y="619.6" font-size="10" font-weight="bold" fill="#000" text-anchor="end">60</text>
<line x1="256.1" y1="597" x2="258.5" y2="597" stroke="#000" stroke-width="1"/>
<text x="253.1" y="600.4" font-size="10" font-weight="bold" fill="#000" text-anchor="end">70</text>
<line x1="256.1" y1="577.8" x2="258.5" y2="577.8" stroke="#000" stroke-width="1"/>
<text x="253.1" y="581.2" font-size="10" font-weight="bold" fill="#000" text-anchor="end">80</text>
<line x1="256.9" y1="721.8" x2="258.5" y2="721.8" stroke="#000" stroke-width="1"/>
<line x1="256.9" y1="702.6" x2="258.5" y2="702.6" stroke="#000" stroke-width="1"/>
<line x1="256.9" y1="683.4" x2="258.5" y2="683.4" stroke="#000" stroke-width="1"/>
<line x1="256.9" y1="664.2" x2="258.5" y2="664.2" stroke="#000" stroke-width="1"/>
<line x1="256.9" y1="645" x2="258.5" y2="645" stroke="#000" stroke-width="1"/>
<line x1="256.9" y1="625.8" x2="258.5" y2="625.8" stroke="#000" stroke-width="1"/>
<line x1="256.9" y1="606.6" x2="258.5" y2="606.6" stroke="#000" stroke-width="1"/>
<line x1="256.9" y1="587.4" x2="258.5" y2="587.4" stroke="#000" stroke-width="1"/>
<line x1="258.5" y1="731.4" x2="258.5" y2="734" stroke="#000" stroke-width="1"/>
<text x="258.5" y="745" font-size="9.8" font-weight="bold" fill="#000" text-anchor="middle">45</text>
<line x1="282.31" y1="731.4" x2="282.31" y2="734" stroke="#000" stroke-width="1"/>
<text x="282.31" y="745" font-size="9.8" font-weight="bold" fill="#000" text-anchor="middle">50</text>
<line x1="306.12" y1="731.4" x2="306.12" y2="734" stroke="#000" stroke-width="1"/>
<text x="306.12" y="745" font-size="9.8" font-weight="bold" fill="#000" text-anchor="middle">55</text>
<line x1="329.94" y1="731.4" x2="329.94" y2="734" stroke="#000" stroke-width="1"/>
<text x="329.94" y="745" font-size="9.8" font-weight="bold" fill="#000" text-anchor="middle">60</text>
<line x1="353.75" y1="731.4" x2="353.75" y2="734" stroke="#000" stroke-width="1"/>
<text x="353.75" y="745" font-size="9.8" font-weight="bold" fill="#000" text-anchor="middle">65</text>
<line x1="377.56" y1="731.4" x2="377.56" y2="734" stroke="#000" stroke-width="1"/>
<text x="377.56" y="745" font-size="9.8" font-weight="bold" fill="#000" text-anchor="middle">70</text>
<line x1="401.38" y1="731.4" x2="401.38" y2="734" stroke="#000" stroke-width="1"/>
<text x="401.38" y="745" font-size="9.8" font-weight="bold" fill="#000" text-anchor="middle">75</text>
<line x1="425.19" y1="731.4" x2="425.19" y2="734" stroke="#000" stroke-width="1"/>
<text x="425.19" y="745" font-size="9.8" font-weight="bold" fill="#000" text-anchor="middle">80</text>
<line x1="449" y1="731.4" x2="449" y2="734" stroke="#000" stroke-width="1"/>
<text x="449" y="745" font-size="9.8" font-weight="bold" fill="#000" text-anchor="middle">85</text>
<text x="235.6" y="654.4" font-size="13" font-weight="bold" fill="#000" text-anchor="middle" transform="rotate(-90 235.6 654.4)">Toughness (MJ/m<tspan font-size="9" dy="-5">3</tspan><tspan dy="5">)</tspan></text>
<text x="354" y="760.7" font-size="13" font-weight="bold" fill="#000" text-anchor="middle">Water content (%)</text>
<ellipse cx="610.43" cy="636.58" rx="79.82" ry="29" transform="rotate(-32.6 610.43 636.58)" fill="#e969cf" fill-opacity="0.5"/>
<ellipse cx="563.6" cy="631.4" rx="36.75" ry="14" transform="rotate(-54.19 563.6 631.4)" fill="#88d8f8" fill-opacity="0.5"/>
<ellipse cx="519.2" cy="649.85" rx="25.36" ry="9" transform="rotate(-62.27 519.2 649.85)" fill="#d99040" fill-opacity="0.5"/>
<ellipse cx="527.7" cy="656.1" rx="20.1" ry="6.5" transform="rotate(-61.14 527.7 656.1)" fill="#10c0b0" fill-opacity="0.6"/>
<g><ellipse cx="601.7" cy="705.4" rx="57" ry="18.3" transform="rotate(-14 601.7 705.4)" fill="#98fcd2" fill-opacity="1.0"/></g>
<g><ellipse cx="521.95" cy="714.65" rx="21.59" ry="7" transform="rotate(-42.37 521.95 714.65)" fill="#a5aadc" fill-opacity="1.0"/></g>
<g><ellipse cx="555.25" cy="714.6" rx="29.45" ry="10.5" transform="rotate(14.96 555.25 714.6)" fill="#f0afb4" fill-opacity="1.0"/></g>
<clipPath id="cp1"><ellipse cx="601.7" cy="705.4" rx="57" ry="18.3" transform="rotate(-14 601.7 705.4)"/></clipPath>
<g clip-path="url(#cp1)"><ellipse cx="555.25" cy="714.6" rx="29.45" ry="10.5" transform="rotate(14.96 555.25 714.6)" fill="#cfaba0" fill-opacity="1.0"/></g>
<clipPath id="cp2"><ellipse cx="521.95" cy="714.65" rx="21.59" ry="7" transform="rotate(-42.37 521.95 714.65)"/></clipPath>
<g clip-path="url(#cp2)"><ellipse cx="555.25" cy="714.6" rx="29.45" ry="10.5" transform="rotate(14.96 555.25 714.6)" fill="#d7a5c8" fill-opacity="1.0"/></g>
<path d="M560.7,673.5 L561.64,676.01 L564.31,676.13 L562.22,677.79 L562.93,680.37 L560.7,678.9 L558.47,680.37 L559.18,677.79 L557.09,676.13 L559.76,676.01 Z" fill="#e8306a" stroke="none" stroke-width="0.8" opacity="1"/>
<path d="M620.3,641.3 L621.24,643.81 L623.91,643.93 L621.82,645.59 L622.53,648.17 L620.3,646.7 L618.07,648.17 L618.78,645.59 L616.69,643.93 L619.36,643.81 Z" fill="#e8306a" stroke="none" stroke-width="0.8" opacity="1"/>
<path d="M664.1,591.7 L665.04,594.21 L667.71,594.33 L665.62,595.99 L666.33,598.57 L664.1,597.1 L661.87,598.57 L662.58,595.99 L660.49,594.33 L663.16,594.21 Z" fill="#e8306a" stroke="none" stroke-width="0.8" opacity="1"/>
<path d="M571.2,611.4 L574.4,614.6 L571.2,617.8 L568,614.6 Z" fill="#60b8f0" opacity="0.9"/>
<path d="M558.2,644.7 L561.4,647.9 L558.2,651.1 L555,647.9 Z" fill="#60b8f0" opacity="0.9"/>
<circle cx="520.7" cy="644" r="2.3" fill="#e09850" opacity="0.9"/>
<circle cx="523.5" cy="641.8" r="2.3" fill="#e09850" opacity="0.9"/>
<circle cx="518" cy="661.2" r="2.3" fill="#e09850" opacity="0.9"/>
<circle cx="524.6" cy="655.1" r="2.2" fill="#40c0b0" opacity="0.8"/>
<circle cx="521.3" cy="659.8" r="2.2" fill="#40c0b0" opacity="0.8"/>
<path d="M604,686.8 L606.85,691.9 L601.15,691.9 Z" fill="#40d880" opacity="0.7"/>
<path d="M638.3,706.5 L641.15,711.6 L635.45,711.6 Z" fill="#40d880" opacity="0.7"/>
<path d="M556,718.7 L558.85,723.8 L553.15,723.8 Z" fill="#90b090" opacity="0.8"/>
<path d="M546.3,718.7 L549,721.4 L546.3,724.1 L543.6,721.4 Z" fill="#e07080" opacity="0.6"/>
<path d="M562.3,718.7 L565,721.4 L562.3,724.1 L559.6,721.4 Z" fill="#e07080" opacity="0.6"/>
<path d="M567.1,718.7 L569.8,721.4 L567.1,724.1 L564.4,721.4 Z" fill="#e07080" opacity="0.6"/>
<path d="M514.6,715.8 L515.39,717.91 L517.64,718.01 L515.88,719.42 L516.48,721.59 L514.6,720.34 L512.72,721.59 L513.32,719.42 L511.56,718.01 L513.81,717.91 Z" fill="none" stroke="#4050b8" stroke-width="0.7" opacity="1"/>
<path d="M517.6,718.3 L518.39,720.41 L520.64,720.51 L518.88,721.92 L519.48,724.09 L517.6,722.84 L515.72,724.09 L516.32,721.92 L514.56,720.51 L516.81,720.41 Z" fill="none" stroke="#4050b8" stroke-width="0.7" opacity="1"/>
<path d="M516.5,714.3 L517.29,716.41 L519.54,716.51 L517.78,717.92 L518.38,720.09 L516.5,718.84 L514.62,720.09 L515.22,717.92 L513.46,716.51 L515.71,716.41 Z" fill="none" stroke="#4050b8" stroke-width="0.7" opacity="1"/>
<path d="M514.2,718.6 L514.99,720.71 L517.24,720.81 L515.48,722.22 L516.08,724.39 L514.2,723.14 L512.32,724.39 L512.92,722.22 L511.16,720.81 L513.41,720.71 Z" fill="none" stroke="#4050b8" stroke-width="0.7" opacity="1"/>
<text x="508.8" y="603.6" font-size="7.3" font-weight="normal" fill="#e8a868" text-anchor="middle" transform="rotate(-90 508.8 603.6)">FC-S PVA/PVP</text>
<line x1="515.7" y1="626.5" x2="521.8" y2="633.5" stroke="#e8a868" stroke-width="0.8"/>
<text x="537.3" y="607.1" font-size="7.3" font-weight="normal" fill="#40c8c0" text-anchor="middle" transform="rotate(-90 537.3 607.1)">FASS PVA</text>
<line x1="534.6" y1="626.5" x2="533.8" y2="639" stroke="#40c8c0" stroke-width="0.8"/>
<text x="546.3" y="593.6" font-size="7.3" font-weight="normal" fill="#80d0f0" text-anchor="start">PCNA hydrogel</text>
<line x1="565.7" y1="596" x2="569" y2="603.5" stroke="#80d0f0" stroke-width="0.8"/>
<text x="608.7" y="590.2" font-size="7.3" font-weight="normal" fill="#e060c8" text-anchor="start">This work</text>
<line x1="619.8" y1="593.3" x2="623.4" y2="601.6" stroke="#e060c8" stroke-width="0.8"/>
<text x="622.5" y="673.3" font-size="7.3" font-weight="normal" fill="#40c060" text-anchor="start">DCC-hydrogel</text>
<line x1="628.1" y1="676.5" x2="623.1" y2="684.2" stroke="#40c060" stroke-width="0.8"/>
<text x="499.7" y="696.2" font-size="7.3" font-weight="normal" fill="#5058a8" text-anchor="start">PCPP-D&S hydrogel</text>
<line x1="524.1" y1="695.9" x2="529.6" y2="704.2" stroke="#5058a8" stroke-width="0.8"/>
<text x="614.2" y="727.7" font-size="7.3" font-weight="normal" fill="#e05060" text-anchor="start">Ca-alginate hydrogel</text>
<line x1="580.9" y1="720" x2="612.8" y2="724.2" stroke="#e05060" stroke-width="0.8"/>
<line x1="488.3" y1="577.8" x2="678.5" y2="577.8" stroke="#000" stroke-width="1.5"/>
<line x1="678.5" y1="577.8" x2="678.5" y2="731.3" stroke="#000" stroke-width="1.5"/>
<line x1="488.3" y1="731.3" x2="678.5" y2="731.3" stroke="#000" stroke-width="1.5"/>
<line x1="488.3" y1="577.8" x2="488.3" y2="731.3" stroke="#000" stroke-width="1.5"/>
<line x1="485.9" y1="731.3" x2="488.3" y2="731.3" stroke="#000" stroke-width="1"/>
<text x="482.9" y="734.7" font-size="10" font-weight="bold" fill="#000" text-anchor="end">0</text>
<line x1="485.9" y1="705.72" x2="488.3" y2="705.72" stroke="#000" stroke-width="1"/>
<text x="482.9" y="709.12" font-size="10" font-weight="bold" fill="#000" text-anchor="end">20</text>
<line x1="485.9" y1="680.13" x2="488.3" y2="680.13" stroke="#000" stroke-width="1"/>
<text x="482.9" y="683.53" font-size="10" font-weight="bold" fill="#000" text-anchor="end">40</text>
<line x1="485.9" y1="654.55" x2="488.3" y2="654.55" stroke="#000" stroke-width="1"/>
<text x="482.9" y="657.95" font-size="10" font-weight="bold" fill="#000" text-anchor="end">60</text>
<line x1="485.9" y1="628.97" x2="488.3" y2="628.97" stroke="#000" stroke-width="1"/>
<text x="482.9" y="632.37" font-size="10" font-weight="bold" fill="#000" text-anchor="end">80</text>
<line x1="485.9" y1="603.38" x2="488.3" y2="603.38" stroke="#000" stroke-width="1"/>
<text x="482.9" y="606.78" font-size="10" font-weight="bold" fill="#000" text-anchor="end">100</text>
<line x1="485.9" y1="577.8" x2="488.3" y2="577.8" stroke="#000" stroke-width="1"/>
<text x="482.9" y="581.2" font-size="10" font-weight="bold" fill="#000" text-anchor="end">120</text>
<line x1="486.7" y1="718.51" x2="488.3" y2="718.51" stroke="#000" stroke-width="1"/>
<line x1="486.7" y1="692.92" x2="488.3" y2="692.92" stroke="#000" stroke-width="1"/>
<line x1="486.7" y1="667.34" x2="488.3" y2="667.34" stroke="#000" stroke-width="1"/>
<line x1="486.7" y1="641.76" x2="488.3" y2="641.76" stroke="#000" stroke-width="1"/>
<line x1="486.7" y1="616.17" x2="488.3" y2="616.17" stroke="#000" stroke-width="1"/>
<line x1="486.7" y1="590.59" x2="488.3" y2="590.59" stroke="#000" stroke-width="1"/>
<line x1="507.7" y1="731.3" x2="507.7" y2="733.9" stroke="#000" stroke-width="1"/>
<text x="507.7" y="744.9" font-size="9.8" font-weight="bold" fill="#000" text-anchor="middle">0</text>
<line x1="532.1" y1="731.3" x2="532.1" y2="733.9" stroke="#000" stroke-width="1"/>
<text x="532.1" y="744.9" font-size="9.8" font-weight="bold" fill="#000" text-anchor="middle">10</text>
<line x1="556.5" y1="731.3" x2="556.5" y2="733.9" stroke="#000" stroke-width="1"/>
<text x="556.5" y="744.9" font-size="9.8" font-weight="bold" fill="#000" text-anchor="middle">20</text>
<line x1="580.9" y1="731.3" x2="580.9" y2="733.9" stroke="#000" stroke-width="1"/>
<text x="580.9" y="744.9" font-size="9.8" font-weight="bold" fill="#000" text-anchor="middle">30</text>
<line x1="605.3" y1="731.3" x2="605.3" y2="733.9" stroke="#000" stroke-width="1"/>
<text x="605.3" y="744.9" font-size="9.8" font-weight="bold" fill="#000" text-anchor="middle">40</text>
<line x1="629.7" y1="731.3" x2="629.7" y2="733.9" stroke="#000" stroke-width="1"/>
<text x="629.7" y="744.9" font-size="9.8" font-weight="bold" fill="#000" text-anchor="middle">50</text>
<line x1="654.1" y1="731.3" x2="654.1" y2="733.9" stroke="#000" stroke-width="1"/>
<text x="654.1" y="744.9" font-size="9.8" font-weight="bold" fill="#000" text-anchor="middle">60</text>
<line x1="678.5" y1="731.3" x2="678.5" y2="733.9" stroke="#000" stroke-width="1"/>
<text x="678.5" y="744.9" font-size="9.8" font-weight="bold" fill="#000" text-anchor="middle">70</text>
<text x="464.8" y="654.4" font-size="13" font-weight="bold" fill="#000" text-anchor="middle" transform="rotate(-90 464.8 654.4)">Toughness (MJ/m<tspan font-size="9" dy="-5">3</tspan><tspan dy="5">)</tspan></text>
<text x="583.4" y="760.7" font-size="13" font-weight="bold" fill="#000" text-anchor="middle">Strength (MPa)</text>
<text x="6.5" y="16.9" font-size="24" font-weight="normal" fill="#000" text-anchor="start">a</text>
<text x="212" y="17.5" font-size="24" font-weight="normal" fill="#000" text-anchor="start">b</text>
<text x="449" y="15.8" font-size="24" font-weight="normal" fill="#000" text-anchor="start">c</text>
<text x="6" y="198.7" font-size="24" font-weight="normal" fill="#000" text-anchor="start">d</text>
<text x="211" y="199.1" font-size="24" font-weight="normal" fill="#000" text-anchor="start">e</text>
<text x="452" y="202.2" font-size="24" font-weight="normal" fill="#000" text-anchor="start">f</text>
<text x="9.5" y="377" font-size="24" font-weight="normal" fill="#000" text-anchor="start">g</text>
<text x="227.5" y="387.5" font-size="24" font-weight="normal" fill="#000" text-anchor="start">h</text>
<text x="457.5" y="381.5" font-size="24" font-weight="normal" fill="#000" text-anchor="start">i</text>
<text x="6" y="573.6" font-size="24" font-weight="normal" fill="#000" text-anchor="start">j</text>
<text x="228" y="575.2" font-size="24" font-weight="normal" fill="#000" text-anchor="start">k</text>
<text x="458" y="578.1" font-size="24" font-weight="normal" fill="#000" text-anchor="start">l</text>
</svg></body></html>
